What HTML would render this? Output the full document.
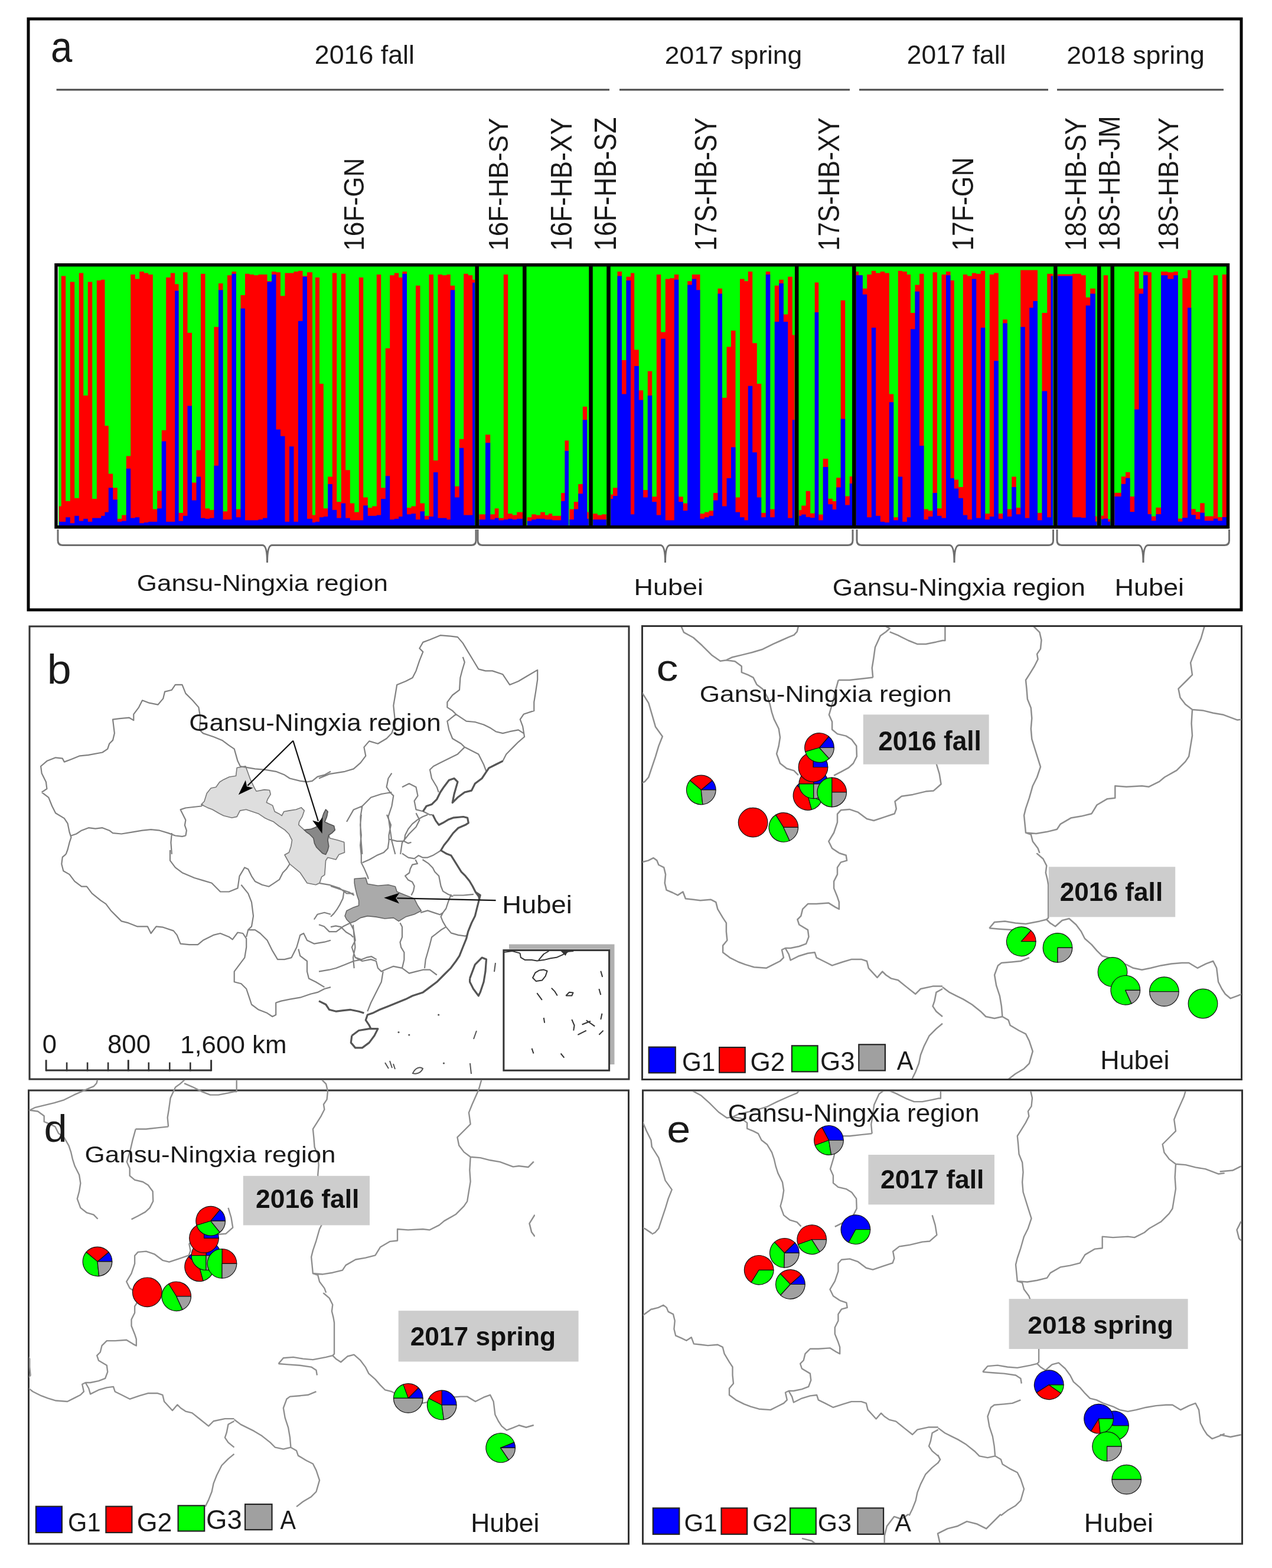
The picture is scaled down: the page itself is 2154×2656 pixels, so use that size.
<!DOCTYPE html><html><head><meta charset="utf-8"><style>html,body{margin:0;padding:0;background:#fff}svg{display:block}</style></head><body><svg width="2154" height="2656" viewBox="0 0 2154 2656" font-family="'Liberation Sans', Arial, Helvetica, sans-serif">
<rect width="2154" height="2656" fill="#fff"/>
<rect x="48" y="32" width="2054" height="1001" fill="none" stroke="#000" stroke-width="5"/>
<text transform="translate(86.06,105.00) scale(0.8815,1)" font-size="74.07" fill="#1a1a1a">a</text>
<text transform="translate(532.76,107.50) scale(1.0299,1)" font-size="43.45" fill="#1a1a1a">2016 fall</text>
<text transform="translate(1125.77,107.50) scale(1.0247,1)" font-size="43.45" fill="#1a1a1a">2017 spring</text>
<text transform="translate(1535.78,107.50) scale(1.0205,1)" font-size="43.45" fill="#1a1a1a">2017 fall</text>
<text transform="translate(1806.26,107.50) scale(1.0292,1)" font-size="43.45" fill="#1a1a1a">2018 spring</text>
<line x1="95.6" y1="152" x2="1032" y2="152" stroke="#4a4a4a" stroke-width="3"/>
<line x1="1049" y1="152" x2="1439" y2="152" stroke="#4a4a4a" stroke-width="3"/>
<line x1="1455" y1="152" x2="1775" y2="152" stroke="#4a4a4a" stroke-width="3"/>
<line x1="1790" y1="152" x2="2072" y2="152" stroke="#4a4a4a" stroke-width="3"/>
<text transform="translate(615.80,424.82) rotate(-90) scale(0.9034,1)" font-size="49.00" fill="#1a1a1a">16F-GN</text>
<text transform="translate(859.60,424.80) rotate(-90) scale(0.9546,1)" font-size="46.14" fill="#1a1a1a">16F-HB-SY</text>
<text transform="translate(968.00,424.81) rotate(-90) scale(0.8833,1)" font-size="50.00" fill="#1a1a1a">16F-HB-XY</text>
<text transform="translate(1043.00,424.86) rotate(-90) scale(0.8701,1)" font-size="51.43" fill="#1a1a1a">16F-HB-SZ</text>
<text transform="translate(1213.00,424.78) rotate(-90) scale(0.8495,1)" font-size="51.43" fill="#1a1a1a">17S-HB-SY</text>
<text transform="translate(1420.50,424.78) rotate(-90) scale(0.8738,1)" font-size="50.00" fill="#1a1a1a">17S-HB-XY</text>
<text transform="translate(1648.00,424.84) rotate(-90) scale(0.8912,1)" font-size="50.00" fill="#1a1a1a">17F-GN</text>
<text transform="translate(1838.50,424.78) rotate(-90) scale(0.8738,1)" font-size="50.00" fill="#1a1a1a">18S-HB-SY</text>
<text transform="translate(1896.00,424.82) rotate(-90) scale(0.8842,1)" font-size="50.00" fill="#1a1a1a">18S-HB-JM</text>
<text transform="translate(1995.00,424.78) rotate(-90) scale(0.8995,1)" font-size="48.57" fill="#1a1a1a">18S-HB-XY</text>
<rect x="99" y="451" width="1980" height="439" fill="#00ff00"/>
<path d="M100.0,857.5H103.8V890H100.0ZM103.8,467.5H111.2V890H103.8ZM111.2,848.8H118.8V890H111.2ZM118.8,477.5H126.2V890H118.8ZM126.2,843.8H133.8V890H126.2ZM133.8,462.5H141.2V890H133.8ZM141.2,670.0H148.8V890H141.2ZM148.8,477.5H156.2V890H148.8ZM156.2,845.0H163.8V890H156.2ZM163.8,475.0H171.2V890H163.8ZM171.2,473.8H177.5V890H171.2ZM177.5,721.2H183.8V890H177.5ZM183.8,802.5H191.2V890H183.8ZM191.2,826.2H198.8V890H191.2ZM198.8,878.8H206.2V890H198.8ZM206.2,872.5H213.8V890H206.2ZM213.8,772.5H221.2V890H213.8ZM221.2,465.0H228.8V890H221.2ZM228.8,472.5H236.2V890H228.8ZM236.2,460.0H243.8V890H236.2ZM243.8,462.5H251.2V890H243.8ZM251.2,465.0H258.8V890H251.2ZM258.8,862.5H266.2V890H258.8ZM266.2,831.2H273.8V890H266.2ZM273.8,728.8H281.2V890H273.8ZM281.2,470.0H288.8V890H281.2ZM288.8,462.5H296.2V890H288.8ZM296.2,481.2H302.5V890H296.2ZM302.5,868.8H310.0V890H302.5ZM310.0,461.2H317.5V890H310.0ZM317.5,563.8H325.0V890H317.5ZM325.0,817.5H332.5V890H325.0ZM332.5,762.5H340.0V890H332.5ZM340.0,463.8H347.5V890H340.0ZM347.5,861.2H355.0V890H347.5ZM355.0,863.8H362.5V890H355.0ZM362.5,553.8H370.0V890H362.5ZM370.0,480.0H377.5V890H370.0ZM377.5,866.2H385.0V890H377.5ZM385.0,466.2H392.5V890H385.0ZM392.5,460.0H400.0V890H392.5ZM400.0,862.5H407.5V890H400.0ZM407.5,500.0H415.0V890H407.5ZM415.0,463.8H422.5V890H415.0ZM422.5,465.0H430.0V890H422.5ZM430.0,466.2H437.5V890H430.0ZM437.5,465.0H445.0V890H437.5ZM445.0,465.0H452.5V890H445.0ZM452.5,476.2H460.0V890H452.5ZM460.0,460.0H467.5V890H460.0ZM467.5,461.2H475.0V890H467.5ZM475.0,501.2H482.5V890H475.0ZM482.5,462.5H490.0V890H482.5ZM490.0,462.5H497.5V890H490.0ZM497.5,460.0H505.0V890H497.5ZM505.0,458.8H512.5V890H505.0ZM512.5,467.5H520.0V890H512.5ZM520.0,461.2H529.0V890H520.0ZM529.0,872.5H534.0V890H529.0ZM534.0,470.0H541.0V890H534.0ZM541.0,650.0H547.8V890H541.0ZM547.8,861.2H555.2V890H547.8ZM555.2,807.5H562.8V890H555.2ZM562.8,462.5H570.2V890H562.8ZM570.2,850.0H577.8V890H570.2ZM577.8,463.8H585.2V890H577.8ZM585.2,796.2H592.8V890H585.2ZM592.8,852.5H600.2V890H592.8ZM600.2,867.5H607.8V890H600.2ZM607.8,470.0H615.2V890H607.8ZM615.2,842.5H622.8V890H615.2ZM622.8,860.0H630.2V890H622.8ZM630.2,857.5H637.8V890H630.2ZM637.8,465.0H645.2V890H637.8ZM645.2,826.2H652.8V890H645.2ZM652.8,590.0H660.2V890H652.8ZM660.2,466.2H667.8V890H660.2ZM667.8,462.5H675.2V890H667.8ZM675.2,470.0H681.5V890H675.2ZM681.5,460.0H689.0V890H681.5ZM689.0,860.0H696.5V890H689.0ZM696.5,857.5H704.0V890H696.5ZM704.0,483.8H711.5V890H704.0ZM711.5,852.5H719.0V890H711.5ZM719.0,873.8H726.5V890H719.0ZM726.5,465.0H734.0V890H726.5ZM734.0,780.0H741.5V890H734.0ZM741.5,465.0H749.0V890H741.5ZM749.0,466.2H756.5V890H749.0ZM756.5,465.0H762.8V890H756.5ZM762.8,483.8H770.2V890H762.8ZM770.2,823.8H777.8V890H770.2ZM777.8,743.8H785.2V890H777.8ZM785.2,463.8H792.8V890H785.2ZM792.8,466.2H800.2V890H792.8ZM800.2,473.8H804.0V890H800.2ZM811.5,871.2H822.0V890H811.5ZM822.0,736.2H830.2V890H822.0ZM830.2,871.2H837.8V890H830.2ZM837.8,861.2H844.5V890H837.8ZM844.5,877.5H852.8V890H844.5ZM852.8,465.0H860.2V890H852.8ZM860.2,870.0H867.8V890H860.2ZM867.8,872.5H875.2V890H867.8ZM875.2,867.5H885.2V890H875.2ZM892.8,876.2H900.2V890H892.8ZM900.2,871.2H907.8V890H900.2ZM907.8,872.5H915.2V890H907.8ZM915.2,867.5H922.8V890H915.2ZM922.8,872.5H929.0V890H922.8ZM929.0,870.0H935.2V890H929.0ZM935.2,873.8H942.8V890H935.2ZM942.8,873.8H950.2V890H942.8ZM950.2,835.0H956.5V890H950.2ZM956.5,746.2H963.0V890H956.5ZM964.2,862.5H971.8V890H964.2ZM971.8,850.0H979.2V890H971.8ZM979.2,820.0H986.8V890H979.2ZM986.8,688.8H994.2V890H986.8ZM994.2,867.5H996.8V890H994.2ZM1004.2,870.0H1011.8V890H1004.2ZM1011.8,872.5H1019.2V890H1011.8ZM1019.2,871.2H1026.8V890H1019.2ZM1034.2,837.5H1038.0V890H1034.2ZM1038.0,826.2H1045.5V890H1038.0ZM1045.5,460.0H1053.0V890H1045.5ZM1053.0,610.0H1060.5V890H1053.0ZM1060.5,468.8H1068.0V890H1060.5ZM1068.0,462.5H1074.2V890H1068.0ZM1074.2,592.5H1081.8V890H1074.2ZM1081.8,661.2H1089.2V890H1081.8ZM1089.2,830.0H1096.8V890H1089.2ZM1096.8,628.8H1104.2V890H1096.8ZM1104.2,841.2H1111.8V890H1104.2ZM1111.8,465.0H1119.2V890H1111.8ZM1119.2,562.5H1126.8V890H1119.2ZM1126.8,472.5H1134.2V890H1126.8ZM1134.2,471.2H1141.8V890H1134.2ZM1141.8,465.0H1149.2V890H1141.8ZM1149.2,841.2H1156.8V890H1149.2ZM1156.8,852.5H1164.2V890H1156.8ZM1164.2,476.2H1171.8V890H1164.2ZM1171.8,465.0H1179.2V890H1171.8ZM1179.2,465.0H1185.5V890H1179.2ZM1185.5,870.0H1193.0V890H1185.5ZM1193.0,867.5H1200.5V890H1193.0ZM1200.5,865.0H1208.0V890H1200.5ZM1208.0,835.0H1215.5V890H1208.0ZM1215.5,488.8H1223.0V890H1215.5ZM1223.0,673.8H1230.5V890H1223.0ZM1230.5,587.5H1238.0V890H1230.5ZM1238.0,560.0H1245.5V890H1238.0ZM1245.5,842.5H1253.0V890H1245.5ZM1253.0,472.5H1260.5V890H1253.0ZM1260.5,476.2H1266.8V890H1260.5ZM1266.8,460.0H1274.2V890H1266.8ZM1274.2,581.2H1281.8V890H1274.2ZM1281.8,650.0H1289.2V890H1281.8ZM1289.2,868.8H1296.8V890H1289.2ZM1296.8,460.0H1304.2V890H1296.8ZM1304.2,862.5H1311.8V890H1304.2ZM1311.8,483.8H1319.2V890H1311.8ZM1319.2,473.8H1326.8V890H1319.2ZM1326.8,532.5H1334.2V890H1326.8ZM1334.2,468.8H1341.8V890H1334.2ZM1341.8,567.5H1345.5V890H1341.8ZM1352.9,864.0H1357.2V890H1352.9ZM1357.2,856.5H1364.7V890H1357.2ZM1364.7,831.8H1372.2V890H1364.7ZM1372.2,869.4H1379.7V890H1372.2ZM1379.7,478.6H1386.2V890H1379.7ZM1386.2,871.5H1393.7V890H1386.2ZM1393.7,777.1H1402.3V890H1393.7ZM1402.3,844.7H1409.8V890H1402.3ZM1409.8,849.0H1416.2V890H1409.8ZM1416.2,809.3H1423.7V890H1416.2ZM1423.7,508.7H1431.2V890H1423.7ZM1431.2,840.4H1438.8V890H1431.2ZM1438.8,807.1H1443.0V890H1438.8ZM1449.5,460.0H1454.0V890H1449.5ZM1454.0,466.2H1460.8V890H1454.0ZM1460.8,488.8H1468.2V890H1460.8ZM1468.2,465.0H1475.8V890H1468.2ZM1475.8,458.8H1483.2V890H1475.8ZM1483.2,462.5H1490.8V890H1483.2ZM1490.8,460.0H1498.2V890H1490.8ZM1498.2,462.5H1505.8V890H1498.2ZM1505.8,667.5H1513.2V890H1505.8ZM1513.2,876.2H1520.8V890H1513.2ZM1520.8,458.8H1528.2V890H1520.8ZM1528.2,460.0H1535.8V890H1528.2ZM1535.8,465.0H1542.0V890H1535.8ZM1542.0,530.0H1549.5V890H1542.0ZM1549.5,482.5H1557.0V890H1549.5ZM1557.0,463.8H1564.5V890H1557.0ZM1564.5,862.5H1572.0V890H1564.5ZM1572.0,865.0H1579.5V890H1572.0ZM1579.5,461.2H1587.0V890H1579.5ZM1587.0,861.2H1594.5V890H1587.0ZM1594.5,465.0H1602.0V890H1594.5ZM1602.0,460.0H1609.5V890H1602.0ZM1609.5,475.0H1615.8V890H1609.5ZM1615.8,812.5H1623.2V890H1615.8ZM1623.2,825.0H1630.8V890H1623.2ZM1630.8,465.0H1638.2V890H1630.8ZM1638.2,467.5H1645.8V890H1638.2ZM1645.8,462.5H1653.2V890H1645.8ZM1653.2,463.8H1660.8V890H1653.2ZM1660.8,458.8H1668.2V890H1660.8ZM1668.2,870.0H1675.8V890H1668.2ZM1675.8,465.0H1683.2V890H1675.8ZM1683.2,462.5H1690.8V890H1683.2ZM1690.8,870.0H1698.2V890H1690.8ZM1698.2,541.2H1705.8V890H1698.2ZM1705.8,862.5H1713.2V890H1705.8ZM1713.2,807.5H1720.8V890H1713.2ZM1720.8,860.0H1728.2V890H1720.8ZM1728.2,457.5H1735.8V890H1728.2ZM1735.8,457.5H1743.2V890H1735.8ZM1743.2,457.5H1749.5V890H1743.2ZM1749.5,457.5H1757.0V890H1749.5ZM1757.0,868.8H1764.5V890H1757.0ZM1764.5,530.0H1773.2V890H1764.5ZM1773.2,463.8H1779.5V890H1773.2ZM1779.5,463.8H1783.2V890H1779.5ZM1790.8,464.5H1815.8V890H1790.8ZM1815.8,463.8H1831.0V890H1815.8ZM1791.2,465.5H1816.2V890H1791.2ZM1816.2,466.2H1838.7V890H1816.2ZM1838.7,503.7H1846.2V890H1838.7ZM1846.2,488.7H1854.9V890H1846.2ZM1854.9,874.6H1857.4V890H1854.9ZM1864.9,873.4H1868.7V890H1864.9ZM1868.7,466.2H1876.2V890H1868.7ZM1876.2,879.6H1879.9V890H1876.2ZM1887.4,834.7H1898.7V890H1887.4ZM1898.7,807.2H1906.1V890H1898.7ZM1906.1,799.7H1913.6V890H1906.1ZM1913.6,840.9H1921.1V890H1913.6ZM1921.1,460.0H1928.6V890H1921.1ZM1928.6,488.7H1936.1V890H1928.6ZM1936.1,460.0H1943.6V890H1936.1ZM1943.6,461.2H1949.9V890H1943.6ZM1949.9,874.6H1957.4V890H1949.9ZM1957.4,859.7H1966.1V890H1957.4ZM1966.1,460.0H1977.3V890H1966.1ZM1977.3,461.2H1987.3V890H1977.3ZM1987.3,460.0H1994.8V890H1987.3ZM1994.8,878.4H2002.3V890H1994.8ZM2002.3,471.2H2011.1V890H2002.3ZM2011.1,457.5H2017.3V890H2011.1ZM2017.3,862.2H2024.8V890H2017.3ZM2024.8,867.1H2032.3V890H2024.8ZM2032.3,852.2H2039.8V890H2032.3ZM2039.8,874.6H2054.8V890H2039.8ZM2054.8,466.2H2062.3V890H2054.8ZM2062.3,875.9H2069.8V890H2062.3ZM2069.8,465.0H2077.3V890H2069.8Z" fill="#ff0000"/>
<path d="M100.0,883.8H103.8V890H100.0ZM103.8,883.8H111.2V890H103.8ZM111.2,876.2H118.8V890H111.2ZM118.8,886.2H126.2V890H118.8ZM126.2,873.8H133.8V890H126.2ZM133.8,882.5H141.2V890H133.8ZM141.2,878.8H148.8V890H141.2ZM148.8,883.8H156.2V890H148.8ZM156.2,877.5H163.8V890H156.2ZM163.8,877.5H171.2V890H163.8ZM171.2,873.8H177.5V890H171.2ZM177.5,867.5H183.8V890H177.5ZM183.8,826.2H191.2V890H183.8ZM191.2,846.2H198.8V890H191.2ZM198.8,883.8H206.2V890H198.8ZM206.2,882.5H213.8V890H206.2ZM213.8,793.8H221.2V890H213.8ZM221.2,877.5H228.8V890H221.2ZM228.8,876.2H236.2V890H228.8ZM236.2,886.2H243.8V890H236.2ZM243.8,885.0H251.2V890H243.8ZM251.2,883.8H258.8V890H251.2ZM258.8,883.8H266.2V890H258.8ZM266.2,861.2H273.8V890H266.2ZM273.8,747.5H281.2V890H273.8ZM281.2,883.8H288.8V890H281.2ZM288.8,883.8H296.2V890H288.8ZM296.2,492.5H302.5V890H296.2ZM302.5,882.5H310.0V890H302.5ZM310.0,873.8H317.5V890H310.0ZM317.5,687.5H325.0V890H317.5ZM325.0,847.5H332.5V890H325.0ZM332.5,807.5H340.0V890H332.5ZM340.0,877.5H347.5V890H340.0ZM347.5,878.8H355.0V890H347.5ZM355.0,877.5H362.5V890H355.0ZM362.5,788.8H370.0V890H362.5ZM370.0,491.2H377.5V890H370.0ZM377.5,880.0H385.0V890H377.5ZM385.0,880.0H392.5V890H385.0ZM392.5,463.8H400.0V890H392.5ZM400.0,876.2H407.5V890H400.0ZM407.5,522.5H415.0V890H407.5ZM415.0,881.2H422.5V890H415.0ZM422.5,881.2H430.0V890H422.5ZM430.0,881.2H437.5V890H430.0ZM437.5,880.0H445.0V890H437.5ZM445.0,877.5H452.5V890H445.0ZM452.5,477.5H460.0V890H452.5ZM460.0,465.0H467.5V890H460.0ZM467.5,727.5H475.0V890H467.5ZM475.0,738.8H482.5V890H475.0ZM482.5,883.8H490.0V890H482.5ZM490.0,756.2H497.5V890H490.0ZM497.5,883.8H505.0V890H497.5ZM505.0,543.8H512.5V890H505.0ZM512.5,468.8H520.0V890H512.5ZM520.0,878.8H529.0V890H520.0ZM529.0,885.0H534.0V890H529.0ZM534.0,883.8H541.0V890H534.0ZM541.0,876.2H547.8V890H541.0ZM547.8,875.0H555.2V890H547.8ZM555.2,820.0H562.8V890H555.2ZM562.8,863.8H570.2V890H562.8ZM570.2,877.5H577.8V890H570.2ZM577.8,852.5H585.2V890H577.8ZM585.2,877.5H592.8V890H585.2ZM592.8,881.2H600.2V890H592.8ZM600.2,881.2H607.8V890H600.2ZM607.8,881.2H615.2V890H607.8ZM615.2,856.2H622.8V890H615.2ZM622.8,873.8H630.2V890H622.8ZM630.2,873.8H637.8V890H630.2ZM637.8,872.5H645.2V890H637.8ZM645.2,845.0H652.8V890H645.2ZM652.8,806.2H660.2V890H652.8ZM660.2,880.0H667.8V890H660.2ZM667.8,878.8H675.2V890H667.8ZM675.2,875.0H681.5V890H675.2ZM681.5,463.8H689.0V890H681.5ZM689.0,871.2H696.5V890H689.0ZM696.5,870.0H704.0V890H696.5ZM704.0,880.0H711.5V890H704.0ZM711.5,866.2H719.0V890H711.5ZM719.0,880.0H726.5V890H719.0ZM726.5,875.0H734.0V890H726.5ZM734.0,800.0H741.5V890H734.0ZM741.5,877.5H749.0V890H741.5ZM749.0,877.5H756.5V890H749.0ZM756.5,880.0H762.8V890H756.5ZM762.8,491.2H770.2V890H762.8ZM770.2,842.5H777.8V890H770.2ZM777.8,758.8H785.2V890H777.8ZM785.2,872.5H792.8V890H785.2ZM792.8,872.5H800.2V890H792.8ZM800.2,478.8H804.0V890H800.2ZM811.5,880.0H822.0V890H811.5ZM822.0,750.0H830.2V890H822.0ZM830.2,880.0H837.8V890H830.2ZM837.8,877.5H844.5V890H837.8ZM844.5,881.2H852.8V890H844.5ZM852.8,880.0H860.2V890H852.8ZM860.2,878.8H867.8V890H860.2ZM867.8,880.0H875.2V890H867.8ZM875.2,878.8H885.2V890H875.2ZM892.8,882.5H900.2V890H892.8ZM900.2,880.0H907.8V890H900.2ZM907.8,878.8H915.2V890H907.8ZM915.2,878.8H922.8V890H915.2ZM922.8,880.0H929.0V890H922.8ZM929.0,880.0H935.2V890H929.0ZM935.2,881.2H942.8V890H935.2ZM942.8,881.2H950.2V890H942.8ZM950.2,848.8H956.5V890H950.2ZM956.5,763.8H963.0V890H956.5ZM964.2,880.0H971.8V890H964.2ZM971.8,862.5H979.2V890H971.8ZM979.2,836.2H986.8V890H979.2ZM986.8,711.2H994.2V890H986.8ZM994.2,878.8H996.8V890H994.2ZM1004.2,880.0H1011.8V890H1004.2ZM1011.8,880.0H1019.2V890H1011.8ZM1019.2,880.0H1026.8V890H1019.2ZM1034.2,845.0H1038.0V890H1034.2ZM1038.0,840.0H1045.5V890H1038.0ZM1045.5,467.5H1053.0V890H1045.5ZM1053.0,667.5H1060.5V890H1053.0ZM1060.5,475.0H1068.0V890H1060.5ZM1068.0,871.2H1074.2V890H1068.0ZM1074.2,620.0H1081.8V890H1074.2ZM1081.8,677.5H1089.2V890H1081.8ZM1089.2,842.5H1096.8V890H1089.2ZM1096.8,670.0H1104.2V890H1096.8ZM1104.2,850.0H1111.8V890H1104.2ZM1111.8,872.5H1119.2V890H1111.8ZM1119.2,573.8H1126.8V890H1119.2ZM1126.8,881.2H1134.2V890H1126.8ZM1134.2,881.2H1141.8V890H1134.2ZM1141.8,473.8H1149.2V890H1141.8ZM1149.2,850.0H1156.8V890H1149.2ZM1156.8,865.0H1164.2V890H1156.8ZM1164.2,482.5H1171.8V890H1164.2ZM1171.8,472.5H1179.2V890H1171.8ZM1179.2,491.2H1185.5V890H1179.2ZM1185.5,878.8H1193.0V890H1185.5ZM1193.0,876.2H1200.5V890H1193.0ZM1200.5,873.8H1208.0V890H1200.5ZM1208.0,847.5H1215.5V890H1208.0ZM1215.5,497.5H1223.0V890H1215.5ZM1223.0,857.5H1230.5V890H1223.0ZM1230.5,810.0H1238.0V890H1230.5ZM1238.0,757.5H1245.5V890H1238.0ZM1245.5,867.5H1253.0V890H1245.5ZM1253.0,876.2H1260.5V890H1253.0ZM1260.5,881.2H1266.8V890H1260.5ZM1266.8,653.8H1274.2V890H1266.8ZM1274.2,766.2H1281.8V890H1274.2ZM1281.8,842.5H1289.2V890H1281.8ZM1289.2,876.2H1296.8V890H1289.2ZM1296.8,465.0H1304.2V890H1296.8ZM1304.2,876.2H1311.8V890H1304.2ZM1311.8,545.0H1319.2V890H1311.8ZM1319.2,480.0H1326.8V890H1319.2ZM1326.8,545.0H1334.2V890H1326.8ZM1334.2,877.5H1341.8V890H1334.2ZM1341.8,711.2H1345.5V890H1341.8ZM1352.9,873.7H1357.2V890H1352.9ZM1357.2,871.5H1364.7V890H1357.2ZM1364.7,875.8H1372.2V890H1364.7ZM1372.2,876.9H1379.7V890H1372.2ZM1379.7,529.1H1386.2V890H1379.7ZM1386.2,881.2H1393.7V890H1386.2ZM1393.7,791.0H1402.3V890H1393.7ZM1402.3,854.3H1409.8V890H1402.3ZM1409.8,862.9H1416.2V890H1409.8ZM1416.2,825.4H1423.7V890H1416.2ZM1423.7,709.4H1431.2V890H1423.7ZM1431.2,855.4H1438.8V890H1431.2ZM1438.8,818.9H1443.0V890H1438.8ZM1449.5,466.2H1454.0V890H1449.5ZM1454.0,466.2H1460.8V890H1454.0ZM1460.8,498.8H1468.2V890H1460.8ZM1468.2,876.2H1475.8V890H1468.2ZM1475.8,555.0H1483.2V890H1475.8ZM1483.2,873.8H1490.8V890H1483.2ZM1490.8,883.8H1498.2V890H1490.8ZM1498.2,885.0H1505.8V890H1498.2ZM1505.8,681.2H1513.2V890H1505.8ZM1513.2,881.2H1520.8V890H1513.2ZM1520.8,807.5H1528.2V890H1520.8ZM1528.2,883.8H1535.8V890H1528.2ZM1535.8,876.2H1542.0V890H1535.8ZM1542.0,557.5H1549.5V890H1542.0ZM1549.5,493.8H1557.0V890H1549.5ZM1557.0,755.0H1564.5V890H1557.0ZM1564.5,880.0H1572.0V890H1564.5ZM1572.0,875.0H1579.5V890H1572.0ZM1579.5,835.0H1587.0V890H1579.5ZM1587.0,873.8H1594.5V890H1587.0ZM1594.5,877.5H1602.0V890H1594.5ZM1602.0,466.2H1609.5V890H1602.0ZM1609.5,810.0H1615.8V890H1609.5ZM1615.8,827.5H1623.2V890H1615.8ZM1623.2,843.8H1630.8V890H1623.2ZM1630.8,872.5H1638.2V890H1630.8ZM1638.2,880.0H1645.8V890H1638.2ZM1645.8,472.5H1653.2V890H1645.8ZM1653.2,877.5H1660.8V890H1653.2ZM1660.8,555.0H1668.2V890H1660.8ZM1668.2,880.0H1675.8V890H1668.2ZM1675.8,875.0H1683.2V890H1675.8ZM1683.2,611.2H1690.8V890H1683.2ZM1690.8,878.8H1698.2V890H1690.8ZM1698.2,547.5H1705.8V890H1698.2ZM1705.8,875.0H1713.2V890H1705.8ZM1713.2,825.0H1720.8V890H1713.2ZM1720.8,871.2H1728.2V890H1720.8ZM1728.2,553.8H1735.8V890H1728.2ZM1735.8,877.5H1743.2V890H1735.8ZM1743.2,521.2H1749.5V890H1743.2ZM1749.5,510.0H1757.0V890H1749.5ZM1757.0,881.2H1764.5V890H1757.0ZM1764.5,662.5H1773.2V890H1764.5ZM1773.2,876.2H1779.5V890H1773.2ZM1779.5,467.5H1783.2V890H1779.5ZM1790.8,467.5H1815.8V890H1790.8ZM1815.8,876.2H1831.0V890H1815.8ZM1791.2,467.4H1816.2V890H1791.2ZM1816.2,877.1H1838.7V890H1816.2ZM1838.7,517.4H1846.2V890H1838.7ZM1846.2,497.4H1854.9V890H1846.2ZM1854.9,883.4H1857.4V890H1854.9ZM1864.9,879.6H1868.7V890H1864.9ZM1868.7,878.4H1876.2V890H1868.7ZM1876.2,883.4H1879.9V890H1876.2ZM1887.4,840.9H1898.7V890H1887.4ZM1898.7,819.7H1906.1V890H1898.7ZM1906.1,809.7H1913.6V890H1906.1ZM1913.6,867.1H1921.1V890H1913.6ZM1921.1,693.5H1928.6V890H1921.1ZM1928.6,497.4H1936.1V890H1928.6ZM1936.1,466.2H1943.6V890H1936.1ZM1943.6,870.9H1949.9V890H1943.6ZM1949.9,882.1H1957.4V890H1949.9ZM1957.4,870.9H1966.1V890H1957.4ZM1966.1,466.2H1977.3V890H1966.1ZM1977.3,472.4H1987.3V890H1977.3ZM1987.3,466.2H1994.8V890H1987.3ZM1994.8,883.4H2002.3V890H1994.8ZM2002.3,877.1H2011.1V890H2002.3ZM2011.1,521.2H2017.3V890H2011.1ZM2017.3,872.1H2024.8V890H2017.3ZM2024.8,879.6H2032.3V890H2024.8ZM2032.3,868.4H2039.8V890H2032.3ZM2039.8,882.1H2054.8V890H2039.8ZM2054.8,878.4H2062.3V890H2054.8ZM2062.3,882.1H2069.8V890H2062.3ZM2069.8,875.9H2077.3V890H2069.8Z" fill="#0000ff"/>
<rect x="95" y="448.75" width="1984.5" height="444" fill="none" stroke="#000" stroke-width="5.5"/>
<line x1="807.7" y1="449" x2="807.7" y2="893" stroke="#000" stroke-width="6.5"/>
<line x1="888.3" y1="449" x2="888.3" y2="893" stroke="#000" stroke-width="6.5"/>
<line x1="1000.5" y1="449" x2="1000.5" y2="893" stroke="#000" stroke-width="6.5"/>
<line x1="1030.5" y1="449" x2="1030.5" y2="893" stroke="#000" stroke-width="6.5"/>
<line x1="1349.2" y1="449" x2="1349.2" y2="893" stroke="#000" stroke-width="6.5"/>
<line x1="1446.3" y1="449" x2="1446.3" y2="893" stroke="#000" stroke-width="6.5"/>
<line x1="1787.3" y1="449" x2="1787.3" y2="893" stroke="#000" stroke-width="6.5"/>
<line x1="1861.2" y1="449" x2="1861.2" y2="893" stroke="#000" stroke-width="6.5"/>
<line x1="1883.7" y1="449" x2="1883.7" y2="893" stroke="#000" stroke-width="6.5"/>
<path d="M98,897 L98,915.5 Q98,923.5 106,923.5 L444.5,923.5 Q452.5,923.5 452.5,953 Q452.5,923.5 460.5,923.5 L798,923.5 Q806,923.5 806,915.5 L806,897" fill="none" stroke="#6e6e6e" stroke-width="3"/>
<path d="M809,897 L809,915.5 Q809,923.5 817,923.5 L1118.5,923.5 Q1126.5,923.5 1126.5,953 Q1126.5,923.5 1134.5,923.5 L1436,923.5 Q1444,923.5 1444,915.5 L1444,897" fill="none" stroke="#6e6e6e" stroke-width="3"/>
<path d="M1451,897 L1451,915.5 Q1451,923.5 1459,923.5 L1608,923.5 Q1616,923.5 1616,953 Q1616,923.5 1624,923.5 L1775.5,923.5 Q1783.5,923.5 1783.5,915.5 L1783.5,897" fill="none" stroke="#6e6e6e" stroke-width="3"/>
<path d="M1790,897 L1790,915.5 Q1790,923.5 1798,923.5 L1928,923.5 Q1936,923.5 1936,953 Q1936,923.5 1944,923.5 L2073.5,923.5 Q2081.5,923.5 2081.5,915.5 L2081.5,897" fill="none" stroke="#6e6e6e" stroke-width="3"/>
<text transform="translate(231.80,1001.00) scale(1.1182,1)" font-size="39.31" fill="#1a1a1a">Gansu-Ningxia region</text>
<text transform="translate(1073.40,1007.50) scale(1.1455,1)" font-size="39.31" fill="#1a1a1a">Hubei</text>
<text transform="translate(1409.79,1009.00) scale(1.1068,1)" font-size="40.00" fill="#1a1a1a">Gansu-Ningxia region</text>
<text transform="translate(1887.40,1009.00) scale(1.1258,1)" font-size="40.00" fill="#1a1a1a">Hubei</text>
<rect x="50" y="1061" width="1015" height="767" fill="none" stroke="#333" stroke-width="3"/>
<rect x="1087.5" y="1060.5" width="1015" height="768" fill="none" stroke="#333" stroke-width="3"/>
<rect x="48.5" y="1847" width="1016" height="768" fill="none" stroke="#333" stroke-width="3"/>
<rect x="1088.5" y="1847" width="1015" height="768" fill="none" stroke="#333" stroke-width="3"/>
<defs><clipPath id="clipc"><rect x="1088" y="1062" width="1014" height="765"/></clipPath><clipPath id="clipe"><rect x="1089" y="1848" width="1014" height="766"/></clipPath><clipPath id="clipd"><rect x="49" y="1829" width="857" height="785"/></clipPath></defs>
<g clip-path="url(#clipc)"><path d="M1153.6,1060.9 1158.0,1071.2 1174.1,1080.0 1188.8,1093.3 1205.0,1109.4 1219.7,1119.7 1229.9,1118.2 1244.6,1120.3 1255.8,1128.5 1255.8,1138.8 1266.7,1143.2 1275.5,1147.6 1281.4,1159.4 1291.6,1167.3 1299.9,1181.4 1304.0,1193.7 1306.9,1206.4 1310.7,1218.1 1318.7,1234.3 1321.0,1249.0 1318.7,1263.6 1315.1,1276.9 1321.0,1293.0 1332.2,1301.8 1344.5,1305.4 1351.9,1313.0M1229.9,1118.2 1240.2,1113.2 1256.4,1109.4 1274.0,1105.0 1291.6,1099.7 1309.3,1090.9 1322.5,1085.0 1335.7,1079.2 1344.5,1075.6 1349.8,1069.8 1351.9,1060.9 1353.3,1058.0M1419.7,1152.0 1438.5,1152.0 1458.5,1149.7 1478.2,1147.6M1478.2,1147.6 1476.7,1131.4 1479.1,1116.8 1482.0,1096.2 1490.8,1077.1 1500.2,1070.3 1506.7,1064.5 1497.3,1059.5 1488.5,1058.0M1506.7,1070.3 1520.8,1076.2 1538.4,1085.0 1553.1,1090.9 1567.8,1090.9 1585.4,1087.4 1596.0,1085.0 1600.4,1085.0 1600.4,1058.0M1419.7,1152.0 1414.4,1171.1 1410.0,1190.2 1403.9,1210.8 1409.1,1222.5 1409.1,1235.7 1418.0,1243.1 1432.7,1246.6 1442.1,1252.5 1450.3,1263.6 1450.9,1281.3 1445.0,1293.0 1437.1,1300.4 1423.8,1307.7 1412.1,1313.6M1585.4,1293.0 1590.7,1310.6 1593.6,1328.3 1581.0,1339.4 1567.8,1340.6 1545.8,1345.9 1526.7,1348.8 1515.5,1357.6 1517.8,1370.0 1514.9,1378.2 1497.3,1384.1 1479.7,1390.0 1467.9,1387.0 1453.2,1375.9 1438.5,1370.9 1423.8,1372.3 1418.0,1378.8 1418.0,1392.9 1412.1,1410.5 1403.3,1425.2 1409.1,1437.0 1420.9,1444.9M1086.0,1171.1 1098.3,1190.8 1104.2,1210.8 1110.1,1231.3 1121.8,1247.5 1115.4,1263.6 1110.1,1281.3 1104.2,1298.9 1098.3,1316.5 1091.9,1323.9 1086.0,1326.8M1750.2,1060.9 1760.5,1071.2 1763.5,1084.4 1762.0,1099.1 1756.1,1107.9 1757.6,1116.8 1751.7,1128.5 1744.4,1140.3 1737.0,1152.0 1738.5,1166.7 1739.9,1184.3 1745.8,1199.0 1747.3,1216.6 1745.8,1234.3 1747.3,1251.9 1754.6,1275.4 1762.0,1298.9 1756.1,1316.5 1748.8,1331.2 1742.9,1351.8 1737.0,1369.4 1734.1,1381.1 1737.0,1410.5 1745.8,1413.5 1748.8,1425.2 1757.6,1437.0 1760.5,1444.9M1737.0,1410.5 1754.6,1412.0 1772.3,1409.1 1789.9,1404.7 1795.8,1395.8 1813.4,1385.6 1831.0,1382.6 1848.6,1378.2 1857.5,1363.5 1875.1,1353.2 1888.3,1351.8 1888.3,1331.2 1907.4,1332.7 1933.8,1331.2 1945.6,1332.7 1963.2,1323.9 1972.0,1316.5 1992.6,1304.8 2007.3,1290.1 2013.2,1281.3 2016.1,1263.6 2019.0,1246.0 2017.6,1225.5 2019.0,1201.9M2019.0,1201.9 2007.3,1193.1 1998.5,1181.4 1995.5,1166.7 2010.2,1152.0 2019.0,1143.2 2016.1,1122.6 2022.0,1107.9 2033.7,1081.5 2039.6,1060.9M2019.0,1201.9 2036.7,1203.4 2054.3,1207.8 2071.9,1210.8 2095.4,1219.6 2106.0,1218.1M1086.0,1460.6 1097.8,1457.6 1106.6,1453.2 1112.4,1457.6 1115.4,1465.0 1124.2,1469.4 1127.1,1481.1 1125.7,1495.8 1128.6,1507.6 1138.9,1512.0 1147.7,1516.4 1156.5,1510.5 1160.9,1522.3 1174.1,1523.7 1185.9,1525.2 1203.5,1523.7 1212.3,1528.1 1215.3,1539.9 1224.1,1554.6 1229.9,1563.4 1229.9,1578.1 1231.4,1592.8 1224.1,1601.6 1224.1,1613.3 1235.8,1622.1 1250.5,1629.5 1262.3,1633.9 1277.0,1638.3 1297.5,1639.8 1309.3,1633.9 1321.0,1628.0 1326.9,1622.1 1324.0,1608.9 1329.8,1606.0 1335.7,1616.3 1338.6,1626.5 1353.3,1619.2 1368.0,1614.8 1379.8,1613.3 1382.7,1622.1 1394.5,1628.0 1409.1,1635.4 1426.8,1629.5 1441.5,1625.1 1459.1,1625.1 1467.9,1628.0 1470.8,1639.8 1485.5,1655.9 1494.3,1645.6 1500.2,1651.5 1509.0,1657.4 1520.8,1660.3 1535.5,1672.1 1550.2,1683.8 1559.0,1675.0 1579.5,1670.6 1596.0,1670.6M1420.9,1445.0 1432.7,1448.8 1434.1,1457.6 1423.8,1460.6 1418.0,1469.4 1418.0,1481.1 1412.1,1492.9 1412.1,1504.6 1418.0,1519.3 1420.9,1528.1 1420.9,1539.9 1415.0,1536.9 1403.3,1529.6 1382.7,1531.1 1368.0,1531.1 1359.2,1539.9 1356.3,1551.6 1350.4,1557.5 1353.3,1566.3 1368.0,1575.1 1369.5,1586.9 1365.1,1598.6 1353.3,1603.0 1338.6,1606.0 1329.8,1606.0M1596.0,1675.0 1585.4,1680.9 1582.5,1695.6 1579.5,1704.4 1585.4,1713.2 1596.0,1722.0M1596.0,1733.8 1585.4,1742.6 1573.7,1754.3 1564.8,1772.0 1559.0,1786.7 1556.0,1801.3 1550.2,1816.0 1544.3,1828.1M1756.1,1445.0 1756.1,1445.9 1766.4,1454.7 1772.3,1466.4 1770.8,1478.2 1773.7,1489.9 1775.2,1498.8 1775.2,1554.6 1772.3,1557.5M1675.3,1572.2 1684.1,1561.9 1701.8,1560.4 1719.4,1563.4 1737.0,1564.9 1760.5,1560.4 1772.3,1557.5 1778.1,1563.4 1787.0,1569.3 1798.7,1559.0 1810.5,1556.0 1822.2,1566.3 1831.0,1578.1 1836.9,1589.8 1848.6,1600.1 1857.5,1610.4 1866.3,1619.2 1878.0,1622.1 1889.8,1628.0 1907.4,1633.9 1919.1,1639.8 1933.8,1642.7 1948.5,1639.8 1966.2,1635.4 1983.8,1632.4 2001.4,1631.0 2013.2,1631.0 2027.8,1639.8 2042.5,1632.4 2054.3,1628.0 2060.2,1639.8 2063.1,1663.3 2069.0,1675.0 2074.8,1683.8 2083.7,1691.2 2095.4,1686.8 2106.0,1682.4M1675.3,1572.2 1692.9,1573.7 1713.5,1575.1 1734.1,1578.1 1742.9,1583.9 1744.4,1592.8M1742.9,1622.1 1728.2,1628.0 1713.5,1629.5 1695.9,1631.0 1690.0,1635.4 1684.1,1651.5 1687.1,1669.1 1692.9,1686.8 1695.9,1704.4 1697.4,1722.0 1707.6,1727.9 1710.6,1736.7 1725.3,1745.5 1737.0,1751.4 1742.9,1763.1 1748.8,1780.8 1742.9,1801.3 1734.1,1810.2 1719.4,1819.0 1707.6,1828.1M1697.4,1722.0 1684.1,1725.0 1669.4,1722.0 1660.6,1713.2 1645.9,1701.5 1631.3,1692.6 1619.5,1686.8 1607.8,1680.9 1596.0,1672.1" fill="none" stroke="#8e8e8e" stroke-width="2.5" stroke-linejoin="round"/></g>
<g clip-path="url(#clipd)"><path transform="matrix(0.946,0,0,0.946,-1113.3,822.7)" d="M1153.6,1060.9 1158.0,1071.2 1174.1,1080.0 1188.8,1093.3 1205.0,1109.4 1219.7,1119.7 1229.9,1118.2 1244.6,1120.3 1255.8,1128.5 1255.8,1138.8 1266.7,1143.2 1275.5,1147.6 1281.4,1159.4 1291.6,1167.3 1299.9,1181.4 1304.0,1193.7 1306.9,1206.4 1310.7,1218.1 1318.7,1234.3 1321.0,1249.0 1318.7,1263.6 1315.1,1276.9 1321.0,1293.0 1332.2,1301.8 1344.5,1305.4 1351.9,1313.0M1229.9,1118.2 1240.2,1113.2 1256.4,1109.4 1274.0,1105.0 1291.6,1099.7 1309.3,1090.9 1322.5,1085.0 1335.7,1079.2 1344.5,1075.6 1349.8,1069.8 1351.9,1060.9 1353.3,1058.0M1419.7,1152.0 1438.5,1152.0 1458.5,1149.7 1478.2,1147.6M1478.2,1147.6 1476.7,1131.4 1479.1,1116.8 1482.0,1096.2 1490.8,1077.1 1500.2,1070.3 1506.7,1064.5 1497.3,1059.5 1488.5,1058.0M1506.7,1070.3 1520.8,1076.2 1538.4,1085.0 1553.1,1090.9 1567.8,1090.9 1585.4,1087.4 1596.0,1085.0 1600.4,1085.0 1600.4,1058.0M1419.7,1152.0 1414.4,1171.1 1410.0,1190.2 1403.9,1210.8 1409.1,1222.5 1409.1,1235.7 1418.0,1243.1 1432.7,1246.6 1442.1,1252.5 1450.3,1263.6 1450.9,1281.3 1445.0,1293.0 1437.1,1300.4 1423.8,1307.7 1412.1,1313.6M1585.4,1293.0 1590.7,1310.6 1593.6,1328.3 1581.0,1339.4 1567.8,1340.6 1545.8,1345.9 1526.7,1348.8 1515.5,1357.6 1517.8,1370.0 1514.9,1378.2 1497.3,1384.1 1479.7,1390.0 1467.9,1387.0 1453.2,1375.9 1438.5,1370.9 1423.8,1372.3 1418.0,1378.8 1418.0,1392.9 1412.1,1410.5 1403.3,1425.2 1409.1,1437.0 1420.9,1444.9M1086.0,1171.1 1098.3,1190.8 1104.2,1210.8 1110.1,1231.3 1121.8,1247.5 1115.4,1263.6 1110.1,1281.3 1104.2,1298.9 1098.3,1316.5 1091.9,1323.9 1086.0,1326.8M1750.2,1060.9 1760.5,1071.2 1763.5,1084.4 1762.0,1099.1 1756.1,1107.9 1757.6,1116.8 1751.7,1128.5 1744.4,1140.3 1737.0,1152.0 1738.5,1166.7 1739.9,1184.3 1745.8,1199.0 1747.3,1216.6 1745.8,1234.3 1747.3,1251.9 1754.6,1275.4 1762.0,1298.9 1756.1,1316.5 1748.8,1331.2 1742.9,1351.8 1737.0,1369.4 1734.1,1381.1 1737.0,1410.5 1745.8,1413.5 1748.8,1425.2 1757.6,1437.0 1760.5,1444.9M1737.0,1410.5 1754.6,1412.0 1772.3,1409.1 1789.9,1404.7 1795.8,1395.8 1813.4,1385.6 1831.0,1382.6 1848.6,1378.2 1857.5,1363.5 1875.1,1353.2 1888.3,1351.8 1888.3,1331.2 1907.4,1332.7 1933.8,1331.2 1945.6,1332.7 1963.2,1323.9 1972.0,1316.5 1992.6,1304.8 2007.3,1290.1 2013.2,1281.3 2016.1,1263.6 2019.0,1246.0 2017.6,1225.5 2019.0,1201.9M2019.0,1201.9 2007.3,1193.1 1998.5,1181.4 1995.5,1166.7 2010.2,1152.0 2019.0,1143.2 2016.1,1122.6 2022.0,1107.9 2033.7,1081.5 2039.6,1060.9M2019.0,1201.9 2036.7,1203.4 2054.3,1207.8 2071.9,1210.8 2095.4,1219.6 2106.0,1218.1M1086.0,1460.6 1097.8,1457.6 1106.6,1453.2 1112.4,1457.6 1115.4,1465.0 1124.2,1469.4 1127.1,1481.1 1125.7,1495.8 1128.6,1507.6 1138.9,1512.0 1147.7,1516.4 1156.5,1510.5 1160.9,1522.3 1174.1,1523.7 1185.9,1525.2 1203.5,1523.7 1212.3,1528.1 1215.3,1539.9 1224.1,1554.6 1229.9,1563.4 1229.9,1578.1 1231.4,1592.8 1224.1,1601.6 1224.1,1613.3 1235.8,1622.1 1250.5,1629.5 1262.3,1633.9 1277.0,1638.3 1297.5,1639.8 1309.3,1633.9 1321.0,1628.0 1326.9,1622.1 1324.0,1608.9 1329.8,1606.0 1335.7,1616.3 1338.6,1626.5 1353.3,1619.2 1368.0,1614.8 1379.8,1613.3 1382.7,1622.1 1394.5,1628.0 1409.1,1635.4 1426.8,1629.5 1441.5,1625.1 1459.1,1625.1 1467.9,1628.0 1470.8,1639.8 1485.5,1655.9 1494.3,1645.6 1500.2,1651.5 1509.0,1657.4 1520.8,1660.3 1535.5,1672.1 1550.2,1683.8 1559.0,1675.0 1579.5,1670.6 1596.0,1670.6M1420.9,1445.0 1432.7,1448.8 1434.1,1457.6 1423.8,1460.6 1418.0,1469.4 1418.0,1481.1 1412.1,1492.9 1412.1,1504.6 1418.0,1519.3 1420.9,1528.1 1420.9,1539.9 1415.0,1536.9 1403.3,1529.6 1382.7,1531.1 1368.0,1531.1 1359.2,1539.9 1356.3,1551.6 1350.4,1557.5 1353.3,1566.3 1368.0,1575.1 1369.5,1586.9 1365.1,1598.6 1353.3,1603.0 1338.6,1606.0 1329.8,1606.0M1596.0,1675.0 1585.4,1680.9 1582.5,1695.6 1579.5,1704.4 1585.4,1713.2 1596.0,1722.0M1596.0,1733.8 1585.4,1742.6 1573.7,1754.3 1564.8,1772.0 1559.0,1786.7 1556.0,1801.3 1550.2,1816.0 1544.3,1828.1M1756.1,1445.0 1756.1,1445.9 1766.4,1454.7 1772.3,1466.4 1770.8,1478.2 1773.7,1489.9 1775.2,1498.8 1775.2,1554.6 1772.3,1557.5M1675.3,1572.2 1684.1,1561.9 1701.8,1560.4 1719.4,1563.4 1737.0,1564.9 1760.5,1560.4 1772.3,1557.5 1778.1,1563.4 1787.0,1569.3 1798.7,1559.0 1810.5,1556.0 1822.2,1566.3 1831.0,1578.1 1836.9,1589.8 1848.6,1600.1 1857.5,1610.4 1866.3,1619.2 1878.0,1622.1 1889.8,1628.0 1907.4,1633.9 1919.1,1639.8 1933.8,1642.7 1948.5,1639.8 1966.2,1635.4 1983.8,1632.4 2001.4,1631.0 2013.2,1631.0 2027.8,1639.8 2042.5,1632.4 2054.3,1628.0 2060.2,1639.8 2063.1,1663.3 2069.0,1675.0 2074.8,1683.8 2083.7,1691.2 2095.4,1686.8 2106.0,1682.4M1675.3,1572.2 1692.9,1573.7 1713.5,1575.1 1734.1,1578.1 1742.9,1583.9 1744.4,1592.8M1742.9,1622.1 1728.2,1628.0 1713.5,1629.5 1695.9,1631.0 1690.0,1635.4 1684.1,1651.5 1687.1,1669.1 1692.9,1686.8 1695.9,1704.4 1697.4,1722.0 1707.6,1727.9 1710.6,1736.7 1725.3,1745.5 1737.0,1751.4 1742.9,1763.1 1748.8,1780.8 1742.9,1801.3 1734.1,1810.2 1719.4,1819.0 1707.6,1828.1M1697.4,1722.0 1684.1,1725.0 1669.4,1722.0 1660.6,1713.2 1645.9,1701.5 1631.3,1692.6 1619.5,1686.8 1607.8,1680.9 1596.0,1672.1" fill="none" stroke="#8e8e8e" stroke-width="2.5" stroke-linejoin="round"/></g>
<g clip-path="url(#clipe)"><path d="M1087.0,1897.7 1094.8,1915.8 1102.5,1931.3 1103.8,1943.0M1103.8,2089.1 1092.2,2081.3 1087.0,2080.0M1103.8,2217.1 1094.8,2223.6 1087.0,2228.7M2065.7,1984.4 2087.3,1982.6 2101.7,1975.4M2065.7,2430.3 2083.7,2433.9 2101.7,2430.3M2101.7,2068.9 2094.5,2083.3 2098.1,2097.7 2101.7,2101.3M1538.7,2564.8 1526.4,2573.0 1514.1,2568.9 1501.8,2585.3 1497.7,2601.8 1497.7,2616.1M1694.8,2564.8 1670.2,2589.4 1653.7,2581.2 1637.3,2577.1 1620.9,2585.3 1604.5,2589.4 1588.0,2597.7 1592.1,2616.1M1588.0,2464.2 1592.1,2472.4 1588.0,2478.6M1358.0,2605.9 1374.5,2610.0 1382.7,2616.1" fill="none" stroke="#8e8e8e" stroke-width="2.5" stroke-linejoin="round"/></g>
<g clip-path="url(#clipd)"><path d="M878.1,1975.1 894.7,1976.9 903.8,1967.7M878.1,2414.0 891.0,2417.7 903.8,2414.0M905.7,2057.7 896.5,2072.4 900.2,2087.1 905.7,2094.4" fill="none" stroke="#8e8e8e" stroke-width="2.5" stroke-linejoin="round"/></g>
<g clip-path="url(#clipe)"><path transform="matrix(0.951,0,0,0.951,70.9,828.7)" d="M1153.6,1060.9 1158.0,1071.2 1174.1,1080.0 1188.8,1093.3 1205.0,1109.4 1219.7,1119.7 1229.9,1118.2 1244.6,1120.3 1255.8,1128.5 1255.8,1138.8 1266.7,1143.2 1275.5,1147.6 1281.4,1159.4 1291.6,1167.3 1299.9,1181.4 1304.0,1193.7 1306.9,1206.4 1310.7,1218.1 1318.7,1234.3 1321.0,1249.0 1318.7,1263.6 1315.1,1276.9 1321.0,1293.0 1332.2,1301.8 1344.5,1305.4 1351.9,1313.0M1229.9,1118.2 1240.2,1113.2 1256.4,1109.4 1274.0,1105.0 1291.6,1099.7 1309.3,1090.9 1322.5,1085.0 1335.7,1079.2 1344.5,1075.6 1349.8,1069.8 1351.9,1060.9 1353.3,1058.0M1419.7,1152.0 1438.5,1152.0 1458.5,1149.7 1478.2,1147.6M1478.2,1147.6 1476.7,1131.4 1479.1,1116.8 1482.0,1096.2 1490.8,1077.1 1500.2,1070.3 1506.7,1064.5 1497.3,1059.5 1488.5,1058.0M1506.7,1070.3 1520.8,1076.2 1538.4,1085.0 1553.1,1090.9 1567.8,1090.9 1585.4,1087.4 1596.0,1085.0 1600.4,1085.0 1600.4,1058.0M1419.7,1152.0 1414.4,1171.1 1410.0,1190.2 1403.9,1210.8 1409.1,1222.5 1409.1,1235.7 1418.0,1243.1 1432.7,1246.6 1442.1,1252.5 1450.3,1263.6 1450.9,1281.3 1445.0,1293.0 1437.1,1300.4 1423.8,1307.7 1412.1,1313.6M1585.4,1293.0 1590.7,1310.6 1593.6,1328.3 1581.0,1339.4 1567.8,1340.6 1545.8,1345.9 1526.7,1348.8 1515.5,1357.6 1517.8,1370.0 1514.9,1378.2 1497.3,1384.1 1479.7,1390.0 1467.9,1387.0 1453.2,1375.9 1438.5,1370.9 1423.8,1372.3 1418.0,1378.8 1418.0,1392.9 1412.1,1410.5 1403.3,1425.2 1409.1,1437.0 1420.9,1444.9M1086.0,1171.1 1098.3,1190.8 1104.2,1210.8 1110.1,1231.3 1121.8,1247.5 1115.4,1263.6 1110.1,1281.3 1104.2,1298.9 1098.3,1316.5 1091.9,1323.9 1086.0,1326.8M1750.2,1060.9 1760.5,1071.2 1763.5,1084.4 1762.0,1099.1 1756.1,1107.9 1757.6,1116.8 1751.7,1128.5 1744.4,1140.3 1737.0,1152.0 1738.5,1166.7 1739.9,1184.3 1745.8,1199.0 1747.3,1216.6 1745.8,1234.3 1747.3,1251.9 1754.6,1275.4 1762.0,1298.9 1756.1,1316.5 1748.8,1331.2 1742.9,1351.8 1737.0,1369.4 1734.1,1381.1 1737.0,1410.5 1745.8,1413.5 1748.8,1425.2 1757.6,1437.0 1760.5,1444.9M1737.0,1410.5 1754.6,1412.0 1772.3,1409.1 1789.9,1404.7 1795.8,1395.8 1813.4,1385.6 1831.0,1382.6 1848.6,1378.2 1857.5,1363.5 1875.1,1353.2 1888.3,1351.8 1888.3,1331.2 1907.4,1332.7 1933.8,1331.2 1945.6,1332.7 1963.2,1323.9 1972.0,1316.5 1992.6,1304.8 2007.3,1290.1 2013.2,1281.3 2016.1,1263.6 2019.0,1246.0 2017.6,1225.5 2019.0,1201.9M2019.0,1201.9 2007.3,1193.1 1998.5,1181.4 1995.5,1166.7 2010.2,1152.0 2019.0,1143.2 2016.1,1122.6 2022.0,1107.9 2033.7,1081.5 2039.6,1060.9M2019.0,1201.9 2036.7,1203.4 2054.3,1207.8 2071.9,1210.8 2095.4,1219.6 2106.0,1218.1M1086.0,1460.6 1097.8,1457.6 1106.6,1453.2 1112.4,1457.6 1115.4,1465.0 1124.2,1469.4 1127.1,1481.1 1125.7,1495.8 1128.6,1507.6 1138.9,1512.0 1147.7,1516.4 1156.5,1510.5 1160.9,1522.3 1174.1,1523.7 1185.9,1525.2 1203.5,1523.7 1212.3,1528.1 1215.3,1539.9 1224.1,1554.6 1229.9,1563.4 1229.9,1578.1 1231.4,1592.8 1224.1,1601.6 1224.1,1613.3 1235.8,1622.1 1250.5,1629.5 1262.3,1633.9 1277.0,1638.3 1297.5,1639.8 1309.3,1633.9 1321.0,1628.0 1326.9,1622.1 1324.0,1608.9 1329.8,1606.0 1335.7,1616.3 1338.6,1626.5 1353.3,1619.2 1368.0,1614.8 1379.8,1613.3 1382.7,1622.1 1394.5,1628.0 1409.1,1635.4 1426.8,1629.5 1441.5,1625.1 1459.1,1625.1 1467.9,1628.0 1470.8,1639.8 1485.5,1655.9 1494.3,1645.6 1500.2,1651.5 1509.0,1657.4 1520.8,1660.3 1535.5,1672.1 1550.2,1683.8 1559.0,1675.0 1579.5,1670.6 1596.0,1670.6M1420.9,1445.0 1432.7,1448.8 1434.1,1457.6 1423.8,1460.6 1418.0,1469.4 1418.0,1481.1 1412.1,1492.9 1412.1,1504.6 1418.0,1519.3 1420.9,1528.1 1420.9,1539.9 1415.0,1536.9 1403.3,1529.6 1382.7,1531.1 1368.0,1531.1 1359.2,1539.9 1356.3,1551.6 1350.4,1557.5 1353.3,1566.3 1368.0,1575.1 1369.5,1586.9 1365.1,1598.6 1353.3,1603.0 1338.6,1606.0 1329.8,1606.0M1596.0,1675.0 1585.4,1680.9 1582.5,1695.6 1579.5,1704.4 1585.4,1713.2 1596.0,1722.0M1596.0,1733.8 1585.4,1742.6 1573.7,1754.3 1564.8,1772.0 1559.0,1786.7 1556.0,1801.3 1550.2,1816.0 1544.3,1828.1M1756.1,1445.0 1756.1,1445.9 1766.4,1454.7 1772.3,1466.4 1770.8,1478.2 1773.7,1489.9 1775.2,1498.8 1775.2,1554.6 1772.3,1557.5M1675.3,1572.2 1684.1,1561.9 1701.8,1560.4 1719.4,1563.4 1737.0,1564.9 1760.5,1560.4 1772.3,1557.5 1778.1,1563.4 1787.0,1569.3 1798.7,1559.0 1810.5,1556.0 1822.2,1566.3 1831.0,1578.1 1836.9,1589.8 1848.6,1600.1 1857.5,1610.4 1866.3,1619.2 1878.0,1622.1 1889.8,1628.0 1907.4,1633.9 1919.1,1639.8 1933.8,1642.7 1948.5,1639.8 1966.2,1635.4 1983.8,1632.4 2001.4,1631.0 2013.2,1631.0 2027.8,1639.8 2042.5,1632.4 2054.3,1628.0 2060.2,1639.8 2063.1,1663.3 2069.0,1675.0 2074.8,1683.8 2083.7,1691.2 2095.4,1686.8 2106.0,1682.4M1675.3,1572.2 1692.9,1573.7 1713.5,1575.1 1734.1,1578.1 1742.9,1583.9 1744.4,1592.8M1742.9,1622.1 1728.2,1628.0 1713.5,1629.5 1695.9,1631.0 1690.0,1635.4 1684.1,1651.5 1687.1,1669.1 1692.9,1686.8 1695.9,1704.4 1697.4,1722.0 1707.6,1727.9 1710.6,1736.7 1725.3,1745.5 1737.0,1751.4 1742.9,1763.1 1748.8,1780.8 1742.9,1801.3 1734.1,1810.2 1719.4,1819.0 1707.6,1828.1M1697.4,1722.0 1684.1,1725.0 1669.4,1722.0 1660.6,1713.2 1645.9,1701.5 1631.3,1692.6 1619.5,1686.8 1607.8,1680.9 1596.0,1672.1" fill="none" stroke="#8e8e8e" stroke-width="2.5" stroke-linejoin="round"/></g>
<rect x="1461.8" y="1210.4" width="212.9" height="84.3" fill="#cdcdcd"/>
<text transform="translate(1487.15,1270.50) scale(0.9673,1)" font-size="45.79" fill="#111" font-weight="bold">2016 fall</text>
<rect x="1775.9" y="1468.3" width="214.3" height="85.0" fill="#cdcdcd"/>
<text transform="translate(1794.65,1525.70) scale(0.9864,1)" font-size="44.83" fill="#111" font-weight="bold">2016 fall</text>
<text transform="translate(1111.58,1152.90) scale(1.1848,1)" font-size="62.22" fill="#1a1a1a">c</text>
<text transform="translate(1184.79,1189.00) scale(1.1309,1)" font-size="39.03" fill="#1a1a1a">Gansu-Ningxia region</text>
<text transform="translate(1863.21,1811.40) scale(1.0049,1)" font-size="44.69" fill="#1a1a1a">Hubei</text>
<rect x="1098.7" y="1773.6" width="45.1" height="43.7" fill="#0000ff" stroke="#222" stroke-width="2.2"/>
<rect x="1218.1" y="1774.1" width="43.7" height="42.6" fill="#ff0000" stroke="#222" stroke-width="2.2"/>
<rect x="1340.9" y="1771.3" width="43.7" height="44.0" fill="#00ff00" stroke="#222" stroke-width="2.2"/>
<rect x="1454.3" y="1769.3" width="44.6" height="44.1" fill="#a0a0a0" stroke="#222" stroke-width="2.2"/>
<text transform="translate(1154.89,1814.40) scale(0.9701,1)" font-size="43.57" fill="#1a1a1a">G1</text>
<text transform="translate(1270.49,1814.40) scale(1.0128,1)" font-size="43.57" fill="#1a1a1a">G2</text>
<text transform="translate(1389.00,1812.70) scale(0.9705,1)" font-size="45.29" fill="#1a1a1a">G3</text>
<text transform="translate(1518.79,1812.00) scale(0.9274,1)" font-size="44.93" fill="#1a1a1a">A</text>
<path d="M1187.30,1338.00L1212.10,1338.00A24.8,24.8 0 0 0 1206.30,1322.06Z" fill="#0000ff" stroke="#111" stroke-width="1.2" stroke-linejoin="round"/><path d="M1187.30,1338.00L1206.30,1322.06A24.8,24.8 0 0 0 1168.30,1322.06Z" fill="#ff0000" stroke="#111" stroke-width="1.2" stroke-linejoin="round"/><path d="M1187.30,1338.00L1168.30,1322.06A24.8,24.8 0 0 0 1189.89,1362.66Z" fill="#00ff00" stroke="#111" stroke-width="1.2" stroke-linejoin="round"/><path d="M1187.30,1338.00L1189.89,1362.66A24.8,24.8 0 0 0 1212.10,1338.00Z" fill="#a0a0a0" stroke="#111" stroke-width="1.2" stroke-linejoin="round"/>
<circle cx="1275.1" cy="1393.1" r="24.8" fill="#ff0000" stroke="#111" stroke-width="1.2"/>
<path d="M1326.80,1401.40L1351.60,1401.40A24.8,24.8 0 0 0 1313.66,1380.37Z" fill="#ff0000" stroke="#111" stroke-width="1.2" stroke-linejoin="round"/><path d="M1326.80,1401.40L1313.66,1380.37A24.8,24.8 0 0 0 1337.12,1423.95Z" fill="#00ff00" stroke="#111" stroke-width="1.2" stroke-linejoin="round"/><path d="M1326.80,1401.40L1337.12,1423.95A24.8,24.8 0 0 0 1351.60,1401.40Z" fill="#a0a0a0" stroke="#111" stroke-width="1.2" stroke-linejoin="round"/>
<path d="M1368.00,1347.50L1392.80,1347.50A24.8,24.8 0 0 0 1349.86,1330.59Z" fill="#0000ff" stroke="#111" stroke-width="1.2" stroke-linejoin="round"/><path d="M1368.00,1347.50L1349.86,1330.59A24.8,24.8 0 0 0 1374.42,1371.45Z" fill="#ff0000" stroke="#111" stroke-width="1.2" stroke-linejoin="round"/><path d="M1368.00,1347.50L1374.42,1371.45A24.8,24.8 0 0 0 1391.30,1355.98Z" fill="#00ff00" stroke="#111" stroke-width="1.2" stroke-linejoin="round"/><path d="M1368.00,1347.50L1391.30,1355.98A24.8,24.8 0 0 0 1392.80,1347.50Z" fill="#a0a0a0" stroke="#111" stroke-width="1.2" stroke-linejoin="round"/>
<path d="M1377.80,1327.90L1402.60,1327.90A24.8,24.8 0 0 0 1377.80,1303.10Z" fill="#0000ff" stroke="#111" stroke-width="1.2" stroke-linejoin="round"/><path d="M1377.80,1327.90L1377.80,1303.10A24.8,24.8 0 0 0 1353.00,1327.90Z" fill="#ff0000" stroke="#111" stroke-width="1.2" stroke-linejoin="round"/><path d="M1377.80,1327.90L1353.00,1327.90A24.8,24.8 0 0 0 1377.80,1352.70Z" fill="#00ff00" stroke="#111" stroke-width="1.2" stroke-linejoin="round"/><path d="M1377.80,1327.90L1377.80,1352.70A24.8,24.8 0 0 0 1402.60,1327.90Z" fill="#a0a0a0" stroke="#111" stroke-width="1.2" stroke-linejoin="round"/>
<path d="M1377.00,1299.50L1401.80,1299.50A24.8,24.8 0 0 0 1377.00,1274.70Z" fill="#0000ff" stroke="#111" stroke-width="1.2" stroke-linejoin="round"/><path d="M1377.00,1299.50L1377.00,1274.70A24.8,24.8 0 1 0 1401.80,1299.50Z" fill="#ff0000" stroke="#111" stroke-width="1.2" stroke-linejoin="round"/>
<path d="M1387.50,1266.50L1412.30,1266.50A24.8,24.8 0 0 0 1403.44,1247.50Z" fill="#0000ff" stroke="#111" stroke-width="1.2" stroke-linejoin="round"/><path d="M1387.50,1266.50L1403.44,1247.50A24.8,24.8 0 0 0 1363.66,1273.34Z" fill="#ff0000" stroke="#111" stroke-width="1.2" stroke-linejoin="round"/><path d="M1387.50,1266.50L1363.66,1273.34A24.8,24.8 0 0 0 1404.09,1284.93Z" fill="#00ff00" stroke="#111" stroke-width="1.2" stroke-linejoin="round"/><path d="M1387.50,1266.50L1404.09,1284.93A24.8,24.8 0 0 0 1412.30,1266.50Z" fill="#a0a0a0" stroke="#111" stroke-width="1.2" stroke-linejoin="round"/>
<path d="M1408.70,1342.00L1433.50,1342.00A24.8,24.8 0 0 0 1408.70,1317.20Z" fill="#ff0000" stroke="#111" stroke-width="1.2" stroke-linejoin="round"/><path d="M1408.70,1342.00L1408.70,1317.20A24.8,24.8 0 0 0 1408.70,1366.80Z" fill="#00ff00" stroke="#111" stroke-width="1.2" stroke-linejoin="round"/><path d="M1408.70,1342.00L1408.70,1366.80A24.8,24.8 0 0 0 1433.50,1342.00Z" fill="#a0a0a0" stroke="#111" stroke-width="1.2" stroke-linejoin="round"/>
<path d="M1729.30,1594.70L1754.10,1594.70A24.8,24.8 0 0 0 1745.73,1576.13Z" fill="#ff0000" stroke="#111" stroke-width="1.2" stroke-linejoin="round"/><path d="M1729.30,1594.70L1745.73,1576.13A24.8,24.8 0 1 0 1754.10,1594.70Z" fill="#00ff00" stroke="#111" stroke-width="1.2" stroke-linejoin="round"/>
<path d="M1791.00,1605.40L1815.80,1605.40A24.8,24.8 0 1 0 1791.00,1630.20Z" fill="#00ff00" stroke="#111" stroke-width="1.2" stroke-linejoin="round"/><path d="M1791.00,1605.40L1791.00,1630.20A24.8,24.8 0 0 0 1815.80,1605.40Z" fill="#a0a0a0" stroke="#111" stroke-width="1.2" stroke-linejoin="round"/>
<circle cx="1884" cy="1646.4" r="24.8" fill="#00ff00" stroke="#111" stroke-width="1.2"/>
<path d="M1905.80,1677.30L1930.60,1677.30A24.8,24.8 0 1 0 1916.04,1699.88Z" fill="#00ff00" stroke="#111" stroke-width="1.2" stroke-linejoin="round"/><path d="M1905.80,1677.30L1916.04,1699.88A24.8,24.8 0 0 0 1930.60,1677.30Z" fill="#a0a0a0" stroke="#111" stroke-width="1.2" stroke-linejoin="round"/>
<path d="M1971.40,1679.60L1996.20,1679.60A24.8,24.8 0 0 0 1946.60,1679.60Z" fill="#00ff00" stroke="#111" stroke-width="1.2" stroke-linejoin="round"/><path d="M1971.40,1679.60L1946.60,1679.60A24.8,24.8 0 0 0 1996.20,1679.60Z" fill="#a0a0a0" stroke="#111" stroke-width="1.2" stroke-linejoin="round"/>
<circle cx="2037" cy="1700" r="24.8" fill="#00ff00" stroke="#111" stroke-width="1.2"/>
<rect x="411.8" y="1991.8" width="214.2" height="83.6" fill="#cdcdcd"/>
<text transform="translate(433.04,2045.70) scale(0.9916,1)" font-size="44.83" fill="#111" font-weight="bold">2016 fall</text>
<rect x="674.7" y="2220.2" width="304.9" height="86.2" fill="#cdcdcd"/>
<text transform="translate(694.65,2278.50) scale(0.9954,1)" font-size="44.55" fill="#111" font-weight="bold">2017 spring</text>
<text transform="translate(74.58,1934.00) scale(1.0729,1)" font-size="65.66" fill="#1a1a1a">d</text>
<text transform="translate(143.60,1968.90) scale(1.1101,1)" font-size="39.59" fill="#1a1a1a">Gansu-Ningxia region</text>
<text transform="translate(797.14,2595.30) scale(0.9846,1)" font-size="45.24" fill="#1a1a1a">Hubei</text>
<rect x="60.9" y="2551.7" width="44.0" height="44.3" fill="#0000ff" stroke="#222" stroke-width="2.2"/>
<rect x="179.4" y="2551.7" width="44.0" height="44.3" fill="#ff0000" stroke="#222" stroke-width="2.2"/>
<rect x="301.6" y="2550.3" width="44.6" height="43.2" fill="#00ff00" stroke="#222" stroke-width="2.2"/>
<rect x="415.1" y="2548" width="45.4" height="43.2" fill="#a0a0a0" stroke="#222" stroke-width="2.2"/>
<text transform="translate(115.12,2593.60) scale(0.9380,1)" font-size="44.29" fill="#1a1a1a">G1</text>
<text transform="translate(231.76,2593.60) scale(1.0111,1)" font-size="44.29" fill="#1a1a1a">G2</text>
<text transform="translate(349.12,2590.20) scale(0.9998,1)" font-size="45.57" fill="#1a1a1a">G3</text>
<text transform="translate(474.60,2590.20) scale(0.8836,1)" font-size="44.93" fill="#1a1a1a">A</text>
<path d="M165.00,2136.90L189.80,2136.90A24.8,24.8 0 0 0 184.00,2120.96Z" fill="#0000ff" stroke="#111" stroke-width="1.2" stroke-linejoin="round"/><path d="M165.00,2136.90L184.00,2120.96A24.8,24.8 0 0 0 146.00,2120.96Z" fill="#ff0000" stroke="#111" stroke-width="1.2" stroke-linejoin="round"/><path d="M165.00,2136.90L146.00,2120.96A24.8,24.8 0 0 0 167.59,2161.56Z" fill="#00ff00" stroke="#111" stroke-width="1.2" stroke-linejoin="round"/><path d="M165.00,2136.90L167.59,2161.56A24.8,24.8 0 0 0 189.80,2136.90Z" fill="#a0a0a0" stroke="#111" stroke-width="1.2" stroke-linejoin="round"/>
<circle cx="249.3" cy="2188.8" r="24.8" fill="#ff0000" stroke="#111" stroke-width="1.2"/>
<path d="M298.70,2195.80L323.50,2195.80A24.8,24.8 0 0 0 285.56,2174.77Z" fill="#ff0000" stroke="#111" stroke-width="1.2" stroke-linejoin="round"/><path d="M298.70,2195.80L285.56,2174.77A24.8,24.8 0 0 0 309.02,2218.35Z" fill="#00ff00" stroke="#111" stroke-width="1.2" stroke-linejoin="round"/><path d="M298.70,2195.80L309.02,2218.35A24.8,24.8 0 0 0 323.50,2195.80Z" fill="#a0a0a0" stroke="#111" stroke-width="1.2" stroke-linejoin="round"/>
<path d="M337.60,2145.60L362.40,2145.60A24.8,24.8 0 0 0 319.46,2128.69Z" fill="#0000ff" stroke="#111" stroke-width="1.2" stroke-linejoin="round"/><path d="M337.60,2145.60L319.46,2128.69A24.8,24.8 0 0 0 344.02,2169.55Z" fill="#ff0000" stroke="#111" stroke-width="1.2" stroke-linejoin="round"/><path d="M337.60,2145.60L344.02,2169.55A24.8,24.8 0 0 0 360.90,2154.08Z" fill="#00ff00" stroke="#111" stroke-width="1.2" stroke-linejoin="round"/><path d="M337.60,2145.60L360.90,2154.08A24.8,24.8 0 0 0 362.40,2145.60Z" fill="#a0a0a0" stroke="#111" stroke-width="1.2" stroke-linejoin="round"/>
<path d="M349.00,2126.70L373.80,2126.70A24.8,24.8 0 0 0 349.00,2101.90Z" fill="#0000ff" stroke="#111" stroke-width="1.2" stroke-linejoin="round"/><path d="M349.00,2126.70L349.00,2101.90A24.8,24.8 0 0 0 324.20,2126.70Z" fill="#ff0000" stroke="#111" stroke-width="1.2" stroke-linejoin="round"/><path d="M349.00,2126.70L324.20,2126.70A24.8,24.8 0 0 0 349.00,2151.50Z" fill="#00ff00" stroke="#111" stroke-width="1.2" stroke-linejoin="round"/><path d="M349.00,2126.70L349.00,2151.50A24.8,24.8 0 0 0 373.80,2126.70Z" fill="#a0a0a0" stroke="#111" stroke-width="1.2" stroke-linejoin="round"/>
<path d="M345.50,2097.30L370.30,2097.30A24.8,24.8 0 0 0 345.50,2072.50Z" fill="#0000ff" stroke="#111" stroke-width="1.2" stroke-linejoin="round"/><path d="M345.50,2097.30L345.50,2072.50A24.8,24.8 0 1 0 370.30,2097.30Z" fill="#ff0000" stroke="#111" stroke-width="1.2" stroke-linejoin="round"/>
<path d="M356.70,2068.20L381.50,2068.20A24.8,24.8 0 0 0 372.47,2049.06Z" fill="#0000ff" stroke="#111" stroke-width="1.2" stroke-linejoin="round"/><path d="M356.70,2068.20L372.47,2049.06A24.8,24.8 0 0 0 332.98,2075.45Z" fill="#ff0000" stroke="#111" stroke-width="1.2" stroke-linejoin="round"/><path d="M356.70,2068.20L332.98,2075.45A24.8,24.8 0 0 0 372.31,2087.47Z" fill="#00ff00" stroke="#111" stroke-width="1.2" stroke-linejoin="round"/><path d="M356.70,2068.20L372.31,2087.47A24.8,24.8 0 0 0 381.50,2068.20Z" fill="#a0a0a0" stroke="#111" stroke-width="1.2" stroke-linejoin="round"/>
<path d="M376.00,2140.30L400.80,2140.30A24.8,24.8 0 0 0 376.00,2115.50Z" fill="#ff0000" stroke="#111" stroke-width="1.2" stroke-linejoin="round"/><path d="M376.00,2140.30L376.00,2115.50A24.8,24.8 0 0 0 376.00,2165.10Z" fill="#00ff00" stroke="#111" stroke-width="1.2" stroke-linejoin="round"/><path d="M376.00,2140.30L376.00,2165.10A24.8,24.8 0 0 0 400.80,2140.30Z" fill="#a0a0a0" stroke="#111" stroke-width="1.2" stroke-linejoin="round"/>
<path d="M691.30,2368.40L716.10,2368.40A24.8,24.8 0 0 0 708.68,2350.71Z" fill="#0000ff" stroke="#111" stroke-width="1.2" stroke-linejoin="round"/><path d="M691.30,2368.40L708.68,2350.71A24.8,24.8 0 0 0 682.82,2345.10Z" fill="#ff0000" stroke="#111" stroke-width="1.2" stroke-linejoin="round"/><path d="M691.30,2368.40L682.82,2345.10A24.8,24.8 0 0 0 666.50,2368.40Z" fill="#00ff00" stroke="#111" stroke-width="1.2" stroke-linejoin="round"/><path d="M691.30,2368.40L666.50,2368.40A24.8,24.8 0 0 0 716.10,2368.40Z" fill="#a0a0a0" stroke="#111" stroke-width="1.2" stroke-linejoin="round"/>
<path d="M748.20,2380.00L773.00,2380.00A24.8,24.8 0 0 0 748.20,2355.20Z" fill="#0000ff" stroke="#111" stroke-width="1.2" stroke-linejoin="round"/><path d="M748.20,2380.00L748.20,2355.20A24.8,24.8 0 0 0 726.14,2368.66Z" fill="#ff0000" stroke="#111" stroke-width="1.2" stroke-linejoin="round"/><path d="M748.20,2380.00L726.14,2368.66A24.8,24.8 0 0 0 751.48,2404.58Z" fill="#00ff00" stroke="#111" stroke-width="1.2" stroke-linejoin="round"/><path d="M748.20,2380.00L751.48,2404.58A24.8,24.8 0 0 0 773.00,2380.00Z" fill="#a0a0a0" stroke="#111" stroke-width="1.2" stroke-linejoin="round"/>
<path d="M847.70,2452.40L872.50,2452.40A24.8,24.8 0 0 0 870.69,2443.11Z" fill="#0000ff" stroke="#111" stroke-width="1.2" stroke-linejoin="round"/><path d="M847.70,2452.40L870.69,2443.11A24.8,24.8 0 1 0 861.57,2472.96Z" fill="#00ff00" stroke="#111" stroke-width="1.2" stroke-linejoin="round"/><path d="M847.70,2452.40L861.57,2472.96A24.8,24.8 0 0 0 872.50,2452.40Z" fill="#a0a0a0" stroke="#111" stroke-width="1.2" stroke-linejoin="round"/>
<rect x="1470.4" y="1956" width="213.6" height="84.4" fill="#cdcdcd"/>
<text transform="translate(1490.94,2013.40) scale(0.9947,1)" font-size="44.69" fill="#111" font-weight="bold">2017 fall</text>
<rect x="1708.6" y="2200.2" width="303.0" height="84.8" fill="#cdcdcd"/>
<text transform="translate(1740.35,2258.50) scale(1.0272,1)" font-size="43.17" fill="#111" font-weight="bold">2018 spring</text>
<text transform="translate(1129.16,1935.20) scale(1.1084,1)" font-size="65.00" fill="#1a1a1a">e</text>
<text transform="translate(1232.50,1900.10) scale(1.0405,1)" font-size="42.34" fill="#1a1a1a">Gansu-Ningxia region</text>
<text transform="translate(1835.81,2595.30) scale(0.9918,1)" font-size="45.24" fill="#1a1a1a">Hubei</text>
<rect x="1105.8" y="2554.5" width="44.5" height="44.3" fill="#0000ff" stroke="#222" stroke-width="2.2"/>
<rect x="1221.5" y="2554.5" width="43.7" height="44.3" fill="#ff0000" stroke="#222" stroke-width="2.2"/>
<rect x="1338" y="2554.5" width="43.8" height="44.3" fill="#00ff00" stroke="#222" stroke-width="2.2"/>
<rect x="1452.4" y="2554.5" width="43.7" height="44.3" fill="#a0a0a0" stroke="#222" stroke-width="2.2"/>
<text transform="translate(1158.49,2594.20) scale(1.0025,1)" font-size="42.00" fill="#1a1a1a">G1</text>
<text transform="translate(1274.19,2594.20) scale(1.0546,1)" font-size="42.00" fill="#1a1a1a">G2</text>
<text transform="translate(1384.86,2594.20) scale(1.0196,1)" font-size="42.00" fill="#1a1a1a">G3</text>
<text transform="translate(1515.19,2594.20) scale(0.9743,1)" font-size="42.61" fill="#1a1a1a">A</text>
<path d="M1403.50,1931.50L1428.30,1931.50A24.8,24.8 0 0 0 1391.86,1909.60Z" fill="#0000ff" stroke="#111" stroke-width="1.2" stroke-linejoin="round"/><path d="M1403.50,1931.50L1391.86,1909.60A24.8,24.8 0 0 0 1380.20,1939.98Z" fill="#ff0000" stroke="#111" stroke-width="1.2" stroke-linejoin="round"/><path d="M1403.50,1931.50L1380.20,1939.98A24.8,24.8 0 0 0 1407.59,1955.96Z" fill="#00ff00" stroke="#111" stroke-width="1.2" stroke-linejoin="round"/><path d="M1403.50,1931.50L1407.59,1955.96A24.8,24.8 0 0 0 1428.30,1931.50Z" fill="#a0a0a0" stroke="#111" stroke-width="1.2" stroke-linejoin="round"/>
<path d="M1448.90,2082.70L1473.70,2082.70A24.8,24.8 0 1 0 1437.10,2104.52Z" fill="#0000ff" stroke="#111" stroke-width="1.2" stroke-linejoin="round"/><path d="M1448.90,2082.70L1437.10,2104.52A24.8,24.8 0 0 0 1473.70,2082.70Z" fill="#00ff00" stroke="#111" stroke-width="1.2" stroke-linejoin="round"/>
<path d="M1374.70,2099.70L1399.50,2099.70A24.8,24.8 0 1 0 1351.34,2108.02Z" fill="#ff0000" stroke="#111" stroke-width="1.2" stroke-linejoin="round"/><path d="M1374.70,2099.70L1351.34,2108.02A24.8,24.8 0 0 0 1388.21,2120.50Z" fill="#00ff00" stroke="#111" stroke-width="1.2" stroke-linejoin="round"/><path d="M1374.70,2099.70L1388.21,2120.50A24.8,24.8 0 0 0 1399.50,2099.70Z" fill="#a0a0a0" stroke="#111" stroke-width="1.2" stroke-linejoin="round"/>
<path d="M1328.40,2122.30L1353.20,2122.30A24.8,24.8 0 0 0 1346.12,2104.95Z" fill="#0000ff" stroke="#111" stroke-width="1.2" stroke-linejoin="round"/><path d="M1328.40,2122.30L1346.12,2104.95A24.8,24.8 0 0 0 1311.49,2104.16Z" fill="#ff0000" stroke="#111" stroke-width="1.2" stroke-linejoin="round"/><path d="M1328.40,2122.30L1311.49,2104.16A24.8,24.8 0 0 0 1327.97,2147.10Z" fill="#00ff00" stroke="#111" stroke-width="1.2" stroke-linejoin="round"/><path d="M1328.40,2122.30L1327.97,2147.10A24.8,24.8 0 0 0 1353.20,2122.30Z" fill="#a0a0a0" stroke="#111" stroke-width="1.2" stroke-linejoin="round"/>
<path d="M1285.20,2151.30L1310.00,2151.30A24.8,24.8 0 1 0 1272.06,2172.33Z" fill="#ff0000" stroke="#111" stroke-width="1.2" stroke-linejoin="round"/><path d="M1285.20,2151.30L1272.06,2172.33A24.8,24.8 0 0 0 1310.00,2151.30Z" fill="#00ff00" stroke="#111" stroke-width="1.2" stroke-linejoin="round"/>
<path d="M1338.40,2175.50L1363.20,2175.50A24.8,24.8 0 0 0 1356.83,2158.91Z" fill="#0000ff" stroke="#111" stroke-width="1.2" stroke-linejoin="round"/><path d="M1338.40,2175.50L1356.83,2158.91A24.8,24.8 0 0 0 1321.33,2157.51Z" fill="#ff0000" stroke="#111" stroke-width="1.2" stroke-linejoin="round"/><path d="M1338.40,2175.50L1321.33,2157.51A24.8,24.8 0 0 0 1321.77,2193.90Z" fill="#00ff00" stroke="#111" stroke-width="1.2" stroke-linejoin="round"/><path d="M1338.40,2175.50L1321.77,2193.90A24.8,24.8 0 0 0 1363.20,2175.50Z" fill="#a0a0a0" stroke="#111" stroke-width="1.2" stroke-linejoin="round"/>
<path d="M1776.30,2345.80L1801.10,2345.80A24.8,24.8 0 1 0 1755.27,2358.94Z" fill="#0000ff" stroke="#111" stroke-width="1.2" stroke-linejoin="round"/><path d="M1776.30,2345.80L1755.27,2358.94A24.8,24.8 0 0 0 1796.61,2360.02Z" fill="#ff0000" stroke="#111" stroke-width="1.2" stroke-linejoin="round"/><path d="M1776.30,2345.80L1796.61,2360.02A24.8,24.8 0 0 0 1801.10,2345.80Z" fill="#00ff00" stroke="#111" stroke-width="1.2" stroke-linejoin="round"/>
<path d="M1886.50,2415.00L1911.30,2415.00A24.8,24.8 0 0 0 1865.02,2402.60Z" fill="#0000ff" stroke="#111" stroke-width="1.2" stroke-linejoin="round"/><path d="M1886.50,2415.00L1865.02,2402.60A24.8,24.8 0 0 0 1862.08,2410.69Z" fill="#ff0000" stroke="#111" stroke-width="1.2" stroke-linejoin="round"/><path d="M1886.50,2415.00L1862.08,2410.69A24.8,24.8 0 1 0 1911.30,2415.00Z" fill="#00ff00" stroke="#111" stroke-width="1.2" stroke-linejoin="round"/>
<path d="M1860.60,2403.20L1885.40,2403.20A24.8,24.8 0 1 0 1847.46,2424.23Z" fill="#0000ff" stroke="#111" stroke-width="1.2" stroke-linejoin="round"/><path d="M1860.60,2403.20L1847.46,2424.23A24.8,24.8 0 0 0 1863.19,2427.86Z" fill="#ff0000" stroke="#111" stroke-width="1.2" stroke-linejoin="round"/><path d="M1860.60,2403.20L1863.19,2427.86A24.8,24.8 0 0 0 1885.40,2403.20Z" fill="#00ff00" stroke="#111" stroke-width="1.2" stroke-linejoin="round"/>
<path d="M1874.60,2450.10L1899.40,2450.10A24.8,24.8 0 1 0 1874.60,2474.90Z" fill="#00ff00" stroke="#111" stroke-width="1.2" stroke-linejoin="round"/><path d="M1874.60,2450.10L1874.60,2474.90A24.8,24.8 0 0 0 1899.40,2450.10Z" fill="#a0a0a0" stroke="#111" stroke-width="1.2" stroke-linejoin="round"/>
<path d="M1907.70,2506.10L1932.50,2506.10A24.8,24.8 0 0 0 1882.90,2506.10Z" fill="#00ff00" stroke="#111" stroke-width="1.2" stroke-linejoin="round"/><path d="M1907.70,2506.10L1882.90,2506.10A24.8,24.8 0 0 0 1932.50,2506.10Z" fill="#a0a0a0" stroke="#111" stroke-width="1.2" stroke-linejoin="round"/>
<path d="M340.7,1362.7 345.9,1357.5 350.2,1343.7 357.2,1335.0 365.8,1333.3 371.8,1324.7 378.8,1320.4 388.3,1316.0 399.5,1314.3 401.2,1300.5 415.9,1297.9 423.7,1319.5 430.6,1334.2 434.0,1340.2 447.9,1337.6 456.5,1338.5 458.2,1345.4 453.1,1354.0 451.3,1359.2 461.7,1364.4 465.2,1374.8 472.1,1378.2 477.2,1381.7 480.7,1374.8 489.3,1373.1 501.4,1371.3 510.1,1367.9 515.3,1373.1 511.8,1383.4 506.6,1392.1 505.8,1397.2 515.3,1405.9 527.4,1404.2 536.0,1400.7 544.6,1388.6 548.1,1378.2 551.6,1371.3 555.0,1374.8 553.3,1383.4 549.8,1392.1 556.7,1395.5 565.4,1399.0 567.1,1405.9 561.9,1411.1 556.7,1414.5 558.5,1419.7 572.3,1423.2 582.7,1426.6 583.5,1443.9 574.0,1447.4 568.8,1456.0 555.0,1452.5 551.6,1457.7 549.8,1481.9 544.6,1485.4 541.2,1495.7 534.7,1498.8 520.0,1495.8 508.3,1478.2 490.6,1463.5 482.0,1448.0 489.3,1444.0 492.8,1433.5 494.5,1423.2 489.3,1412.8 482.4,1405.9 472.1,1399.0 463.4,1392.1 454.8,1388.6 447.9,1385.2 437.5,1378.2 427.1,1374.8 416.8,1371.3 406.4,1373.1 401.2,1383.4 392.6,1385.2 378.8,1381.7 371.8,1378.2 359.7,1371.3 351.1,1367.9Z" fill="#dedede" stroke="#777" stroke-width="1.6" stroke-linejoin="round"/>
<path d="M515.3,1405.9 527.4,1404.2 536.0,1400.7 544.6,1388.6 548.1,1378.2 551.6,1371.3 555.0,1374.8 553.3,1383.4 549.8,1392.1 556.7,1395.5 565.4,1399.0 567.1,1405.9 561.9,1411.1 556.7,1414.5 555.0,1423.2 556.7,1433.5 555.0,1440.4 551.6,1447.4 546.4,1445.6 541.2,1440.4 536.0,1435.3 532.5,1428.4 530.8,1419.7 523.9,1412.8 518.7,1409.3Z" fill="#888" stroke="#555" stroke-width="1.6" stroke-linejoin="round"/>
<path d="M600.2,1488.5 619.3,1487.0 622.3,1497.3 639.9,1500.2 657.5,1498.8 669.3,1501.7 672.2,1510.5 686.9,1516.4 701.6,1522.3 707.5,1534.0 713.3,1542.8 701.6,1548.7 686.9,1553.1 675.1,1560.4 666.3,1554.6 651.6,1556.0 636.9,1553.1 622.3,1551.6 610.5,1554.6 601.7,1560.4 592.9,1563.4 587.0,1557.5 584.1,1551.6 587.0,1542.8 598.8,1536.9 607.6,1534.0 607.6,1525.2 604.6,1516.4 601.7,1504.6 600.2,1495.8Z" fill="#aaa" stroke="#666" stroke-width="1.6" stroke-linejoin="round"/>
<path d="M70.6,1342.0 79.4,1336.1 77.9,1324.4 70.6,1309.7 69.1,1298.0 79.4,1289.1 94.1,1283.3 105.8,1284.7 108.8,1290.6 120.5,1286.2 135.2,1280.3 149.9,1278.9 173.4,1274.5 182.2,1268.6 185.1,1259.8 191.0,1253.9 193.9,1242.1 191.0,1218.6 202.8,1217.2 218.9,1215.7 226.3,1220.1 226.3,1209.8 235.1,1198.1 241.0,1186.3 252.7,1190.7 267.4,1193.7 276.2,1183.4 279.1,1171.6 290.9,1168.7 296.8,1159.9 308.5,1159.9 314.4,1174.6 326.1,1186.3 336.4,1198.1 339.4,1215.7 337.9,1236.3 343.8,1242.1 361.4,1248.0 376.1,1253.9 387.8,1262.7 396.7,1268.6 402.5,1289.1 406.9,1298.0 414.3,1299.4 431.9,1302.4 449.5,1303.8 467.2,1306.8 481.8,1312.6 490.7,1318.5 508.3,1322.9 520.0,1324.4 528.8,1322.9 537.7,1315.6 549.4,1312.6 560.0,1306.8M70.6,1342.0 76.4,1346.4 82.3,1350.8 88.2,1365.5 94.1,1377.3 108.8,1386.1 114.6,1394.9 117.6,1409.6 120.5,1418.4 117.6,1427.2 114.6,1439.0 111.7,1446.9M120.5,1415.5 129.3,1412.5 138.1,1406.7 149.9,1402.2 161.6,1403.7 173.4,1402.2 185.1,1406.7 191.0,1411.1 205.7,1412.5 223.3,1409.6 241.0,1406.7 255.6,1405.2 270.3,1406.7 285.0,1411.1 296.8,1415.5 308.5,1416.9 314.4,1415.5M290.9,1411.1 289.4,1427.2 290.9,1446.9M314.4,1415.5 315.9,1406.7 312.9,1397.8 314.4,1389.0 308.5,1377.3 305.6,1371.4 314.4,1368.5 340.8,1365.5 343.8,1362.6M540.0,1318.5 557.6,1311.2 584.1,1306.8 598.8,1302.4 610.5,1292.1 619.3,1280.3 616.4,1265.6 625.2,1255.4 639.9,1259.8 654.6,1251.0 663.4,1242.1 669.3,1224.5 666.3,1195.1 669.3,1177.5 672.2,1159.9 686.9,1154.0 698.6,1148.1 704.5,1136.4 710.4,1118.8 716.3,1104.1 710.4,1098.2 716.3,1087.9 728.0,1083.5 745.6,1076.2 763.3,1077.6 775.0,1079.1 783.8,1089.4 792.6,1104.1 801.5,1118.8 810.3,1133.4 822.0,1136.4 833.8,1136.4 851.4,1142.3 863.1,1159.9 877.8,1154.0 892.5,1145.2 910.2,1134.9 910.2,1151.1 907.2,1171.6 904.3,1189.3 904.3,1203.9 886.7,1209.8 880.8,1218.6 885.2,1230.4 888.1,1248.0 877.8,1256.8 869.0,1265.6 857.3,1277.4 851.4,1289.1 839.6,1295.0 827.9,1300.9 822.0,1309.7 816.1,1318.5 804.4,1327.3 798.5,1339.1 786.8,1342.0 775.0,1350.8 766.2,1359.6 769.1,1345.0 775.0,1324.4 769.1,1318.5 760.3,1321.5 751.5,1333.2 745.6,1342.0 739.8,1353.8 731.0,1362.6 722.1,1365.5 716.3,1374.3 728.0,1380.2 732.4,1380.2M783.8,1112.9 786.8,1121.7 782.4,1136.4 779.4,1148.1 778.0,1168.7 766.2,1177.5 757.4,1189.3 757.4,1198.1 766.2,1203.9 772.1,1209.8 757.4,1221.6 760.3,1236.3 766.2,1251.0 780.9,1259.8 786.8,1265.6M772.1,1209.8 789.7,1221.6 804.4,1223.0 819.1,1227.5 830.8,1233.3 839.6,1239.2 851.4,1242.1 863.1,1239.2 877.8,1236.3 886.7,1242.1M786.8,1265.6 798.5,1271.5 810.3,1277.4 819.1,1295.0 823.5,1306.8M786.8,1265.6 775.0,1277.4 763.3,1283.3 745.6,1292.1 733.9,1298.0 728.0,1303.8 731.0,1318.5 739.8,1333.2 742.7,1342.0M663.4,1309.7 657.5,1318.5 654.6,1333.2 660.4,1342.0 666.3,1347.9 663.4,1365.5 657.5,1383.1 660.4,1403.7 663.4,1424.3 669.3,1446.9M681.0,1333.2 692.8,1327.3 704.5,1333.2 707.5,1347.9 701.6,1356.7 704.5,1371.4 716.3,1374.3M704.5,1377.3 710.4,1389.0 704.5,1400.8 692.8,1412.5 681.0,1427.2 678.1,1446.9M587.0,1392.0 598.8,1371.4 613.4,1365.5 628.1,1350.8 645.8,1345.0 663.4,1342.0M613.4,1365.5 610.5,1383.1 610.5,1412.5 613.4,1446.9M111.7,1446.8 105.8,1451.8 104.3,1463.5 107.3,1475.3 117.6,1481.1 126.4,1492.9 138.1,1501.7 146.9,1501.7 155.8,1513.4 170.4,1525.2 179.3,1531.1 188.1,1542.8 196.9,1551.6 205.7,1560.4 217.5,1563.4 232.1,1569.3 249.8,1569.3 255.6,1581.0 264.5,1569.3 276.2,1570.7 293.8,1576.6 299.7,1583.9 305.6,1598.6 320.3,1600.1 335.0,1600.1 343.8,1592.8 361.4,1583.9 373.1,1581.0 387.8,1586.9 393.7,1591.3 402.5,1579.5 411.3,1581.0 417.2,1589.8 417.2,1604.5 414.3,1622.1 405.5,1633.9 396.7,1645.6 396.7,1663.3 408.4,1666.2 417.2,1675.0 423.1,1692.6 426.0,1701.5 437.8,1710.3 452.5,1716.1 461.3,1722.0 467.2,1719.1 467.2,1698.5 476.0,1695.6 490.7,1692.6 508.3,1689.7 525.9,1683.8 537.7,1680.9 549.4,1675.0 560.0,1672.1M288.0,1440.0 288.0,1457.6 296.8,1469.4 308.5,1478.2 329.1,1487.0 343.8,1491.4 358.5,1495.8 373.1,1510.5 387.8,1510.5 402.5,1504.6 405.5,1484.1 414.3,1469.4 420.2,1472.3 426.0,1484.1 431.9,1492.9 443.7,1498.8 455.4,1501.7 464.2,1495.8 473.0,1489.9 478.9,1478.2 484.8,1472.3 490.7,1463.5M408.4,1498.8 420.2,1513.4 426.0,1528.1 429.0,1551.6 426.0,1569.3 420.2,1575.1 417.2,1586.9M420.2,1575.1 431.9,1575.1 440.7,1581.0 452.5,1592.8 461.3,1610.4 470.1,1625.1 481.8,1625.1 493.6,1622.1 502.4,1604.5 508.3,1583.9 514.2,1581.0 520.0,1592.8 531.8,1598.6 549.4,1595.7 560.0,1592.8M505.3,1607.5 508.3,1619.2 520.0,1628.0 520.0,1645.6 523.0,1657.4 534.7,1663.3 549.4,1672.1M531.8,1557.5 537.7,1548.7 549.4,1545.8 560.0,1548.7M592.9,1563.4 598.8,1575.1 601.7,1592.8 595.8,1604.5 601.7,1622.1 613.4,1628.0 628.1,1625.1 636.9,1628.0 639.9,1639.8 645.8,1645.6 651.6,1642.7 666.3,1636.8 681.0,1639.8M648.7,1645.6 645.8,1663.3 639.9,1675.0 634.0,1686.8 628.1,1698.5 622.3,1713.2M540.0,1645.6 557.6,1642.7 569.4,1639.8 584.1,1633.9 598.8,1628.0 613.4,1625.1M540.0,1566.3 548.8,1569.3 557.6,1578.1 569.4,1578.1 581.1,1569.3 592.9,1563.4M540.0,1495.8 557.6,1498.8 575.3,1504.6 587.0,1513.4 598.8,1513.4M681.0,1639.8 692.8,1648.6 704.5,1645.6 716.3,1642.7 728.0,1642.7 739.8,1651.5M611.8,1380.0 610.1,1397.3 611.8,1414.6 610.1,1431.8 611.8,1449.1 611.8,1461.2 617.0,1471.6 622.2,1483.7 623.9,1488.9M613.6,1461.2 625.7,1456.0 637.8,1449.1 649.9,1443.9 656.8,1437.0 658.5,1424.9 658.5,1414.6 660.2,1405.9 662.0,1397.3 658.5,1388.6 655.0,1380.0M658.5,1421.5 672.3,1424.9 684.4,1424.9 691.3,1428.4 696.5,1426.7M684.4,1424.9 686.1,1414.6 691.3,1404.2 698.2,1395.6 706.9,1388.6 715.5,1383.5 724.2,1380.0M681.0,1445.7 691.3,1452.6 701.7,1454.3 708.6,1449.1 715.5,1452.6 724.2,1452.6 732.8,1449.1 741.4,1443.9 746.6,1440.5M703.4,1456.0 706.9,1462.9 698.2,1464.7 694.8,1471.6 693.1,1478.5 686.1,1483.7 691.3,1490.6 698.2,1494.0 701.7,1501.0 700.0,1509.6 696.5,1516.5M715.5,1456.0 725.9,1462.9 732.8,1469.9 736.3,1476.8 743.2,1483.7 744.9,1492.3 746.6,1501.0 750.1,1509.6 758.7,1514.8 767.4,1518.2M767.4,1516.5 784.6,1516.5 801.9,1514.8M763.9,1514.8 758.7,1528.6 755.3,1539.0 750.1,1545.9 746.6,1552.8 750.1,1561.4 755.3,1570.1 763.9,1580.4 776.0,1583.9 788.1,1585.6 791.6,1583.9M712.1,1545.9 724.2,1542.4 734.5,1545.9 744.9,1549.3 750.1,1545.9M677.5,1563.2 681.0,1570.1 681.0,1587.4 677.5,1596.0 679.2,1604.6 684.4,1613.3 684.4,1625.4 681.0,1640.1M755.3,1570.1 746.6,1575.3 738.0,1582.2 731.1,1587.4 727.6,1601.2 724.2,1613.3 720.7,1625.4 719.0,1640.1M598.0,1566.6 599.7,1587.4 601.5,1604.6 598.0,1621.9 599.7,1640.1M560.0,1501.0 570.4,1504.4 580.7,1507.9 591.1,1511.3 599.7,1516.5M582.5,1509.6 580.7,1521.7 575.6,1532.1 570.4,1540.7 565.2,1547.6 560.0,1552.8M560.0,1570.1 568.6,1568.4 577.3,1570.1 585.9,1578.7 594.6,1583.9 598.0,1587.4M601.5,1621.9 611.8,1625.4 620.5,1621.9 629.1,1620.2 637.8,1625.4" fill="none" stroke="#808080" stroke-width="2.2" stroke-linejoin="round"/>
<path d="M804.4,1510.5 813.2,1516.4 810.3,1528.1 807.3,1539.9 804.4,1551.6 798.5,1563.4 792.6,1578.1 789.7,1589.8 783.8,1604.5 778.0,1619.2 772.1,1628.0 763.3,1639.8 751.5,1651.5 739.8,1663.3 728.0,1672.1 716.3,1680.9 698.6,1686.8 686.9,1692.6 672.2,1698.5 657.5,1704.4 642.8,1710.3 631.1,1716.1 622.3,1719.1 619.3,1727.9 625.2,1736.7 628.1,1742.6M616.4,1716.1 607.6,1713.2 592.9,1710.3 581.1,1711.7 569.4,1713.2 557.6,1710.3 551.8,1701.5 540.0,1695.6M595.8,1754.3 607.6,1745.5 625.2,1742.6 639.9,1742.6 634.0,1754.3 625.2,1766.1 613.4,1774.9 601.7,1774.9 594.3,1766.1 595.8,1754.3M795.6,1657.4 804.4,1633.9 816.1,1622.1 823.5,1625.1 822.0,1645.6 819.1,1663.3 813.2,1680.9 810.3,1686.8 801.5,1675.0 795.6,1663.3 795.6,1657.4M732.8,1380.0 738.0,1390.4 743.2,1397.3 750.1,1393.8 758.7,1388.6 767.4,1385.2 784.6,1383.5 791.6,1385.2 793.3,1393.8 788.1,1397.3 776.0,1402.5 767.4,1411.1 758.7,1423.2 751.8,1431.8 746.6,1440.5 755.3,1445.7 763.9,1449.1 772.5,1462.9 781.2,1476.8 788.1,1483.7 795.0,1492.3 800.2,1501.0 805.4,1511.3 810.6,1518.2 812.3,1525.2M851.4,1289.1 839.6,1295.0 827.9,1300.9 822.0,1309.7 816.1,1318.5 804.4,1327.3 798.5,1339.1 786.8,1342.0 775.0,1350.8 766.2,1359.6 769.1,1345.0 775.0,1324.4 769.1,1318.5 760.3,1321.5 751.5,1333.2 745.6,1342.0 739.8,1353.8 731.0,1362.6 722.1,1365.5 716.3,1374.3" fill="none" stroke="#555" stroke-width="3.2" stroke-linejoin="round"/>
<path d="M652,1800l6,10M660,1797l4,12M666,1802l3,9M699,1818c4,-9 12,-12 17,-8c-3,7 -10,10 -17,8zM796,1801l2,18M807,1746l-5,14M839,1631l-2,15" fill="none" stroke="#555" stroke-width="2"/>
<g fill="#555"><circle cx="742.7" cy="1719" r="1.6"/><circle cx="675" cy="1748.5" r="1.6"/><circle cx="692.8" cy="1753" r="1.6"/><circle cx="751.5" cy="1801" r="1.6"/></g>
<line x1="496.3" y1="1254.7" x2="419.4" y2="1330.8" stroke="#111" stroke-width="2.2"/>
<path d="M403.8,1346.3L415.9,1321.6L418.0,1332.2L428.6,1334.4Z" fill="#000"/>
<line x1="496.3" y1="1254.7" x2="538.9" y2="1390.9" stroke="#111" stroke-width="2.2"/>
<path d="M545.5,1411.9L529.1,1389.8L539.5,1392.8L546.3,1384.4Z" fill="#000"/>
<line x1="839.6" y1="1525.2" x2="672.2" y2="1521.3" stroke="#111" stroke-width="2.2"/>
<path d="M650.2,1520.8L676.4,1512.4L670.2,1521.3L676.0,1530.4Z" fill="#000"/>
<path d="M78.1,1812.9H357.6" stroke="#333" stroke-width="3"/>
<line x1="78.1" y1="1795.3" x2="78.1" y2="1814.4" stroke="#333" stroke-width="3"/>
<line x1="217.3" y1="1795.3" x2="217.3" y2="1814.4" stroke="#333" stroke-width="3"/>
<line x1="357.6" y1="1795.3" x2="357.6" y2="1814.4" stroke="#333" stroke-width="3"/>
<line x1="113.1" y1="1799.5" x2="113.1" y2="1814.4" stroke="#333" stroke-width="2.6"/>
<line x1="148.1" y1="1799.5" x2="148.1" y2="1814.4" stroke="#333" stroke-width="2.6"/>
<line x1="183.1" y1="1799.5" x2="183.1" y2="1814.4" stroke="#333" stroke-width="2.6"/>
<line x1="251.8" y1="1799.5" x2="251.8" y2="1814.4" stroke="#333" stroke-width="2.6"/>
<line x1="287.3" y1="1799.5" x2="287.3" y2="1814.4" stroke="#333" stroke-width="2.6"/>
<line x1="322.3" y1="1799.5" x2="322.3" y2="1814.4" stroke="#333" stroke-width="2.6"/>
<path d="M862,1603.5H1036.5V1803" fill="none" stroke="#b0b0b0" stroke-width="8"/>
<rect x="852.9" y="1609.6" width="178.7" height="203.6" fill="#fff" stroke="#333" stroke-width="3"/>
<path d="M853.1,1613.1 867.5,1611.0 880.5,1614.6 881.9,1621.8 889.1,1626.1 900.6,1626.1 909.3,1627.5 920.8,1626.1 932.3,1623.2 942.4,1621.8 952.5,1617.4 962.6,1611.7 971.2,1611.0M912.2,1626.1 920.8,1616.0 929.4,1611.0M913.6,1643.4 906.4,1647.7 902.1,1656.3 907.8,1662.1 917.9,1660.6 923.7,1653.4 926.6,1644.8 920.8,1642.6 913.6,1643.4M909.3,1682.2 917.9,1693.8M933.8,1673.6 939.5,1679.4 943.8,1686.6M958.2,1686.6 964.0,1680.8 970.5,1681.5 968.3,1686.6 958.2,1686.6M1017.3,1644.8 1020.2,1654.9M1014.4,1675.0 1017.3,1685.1M1019.5,1716.8 1017.3,1726.9M968.3,1726.9 972.6,1737.0 971.2,1745.6M992.8,1728.3 1007.2,1738.4M985.6,1735.5 1000.0,1729.8M978.4,1752.8 992.8,1745.6M920.8,1724.0 922.2,1732.6M900.6,1775.9 903.5,1784.5M949.6,1784.5 955.4,1791.7M1014.4,1752.8 1021.6,1745.6" fill="none" stroke="#333" stroke-width="2" stroke-linejoin="round"/>
<path d="M949.6,1611.0l12,0l-4,8z" fill="#333"/>
<text transform="translate(79.72,1157.80) scale(1.0581,1)" font-size="69.52" fill="#1a1a1a">b</text>
<text transform="translate(320.30,1237.70) scale(1.0948,1)" font-size="40.28" fill="#1a1a1a">Gansu-Ningxia region</text>
<text transform="translate(850.27,1547.30) scale(1.0506,1)" font-size="43.17" fill="#1a1a1a">Hubei</text>
<text transform="translate(71.76,1783.90) scale(0.9809,1)" font-size="44.43" fill="#1a1a1a">0</text>
<text transform="translate(181.93,1783.90) scale(0.9858,1)" font-size="44.43" fill="#1a1a1a">800</text>
<text transform="translate(305.01,1783.90) scale(1.0229,1)" font-size="42.90" fill="#1a1a1a">1,600 km</text>
</svg></body></html>
